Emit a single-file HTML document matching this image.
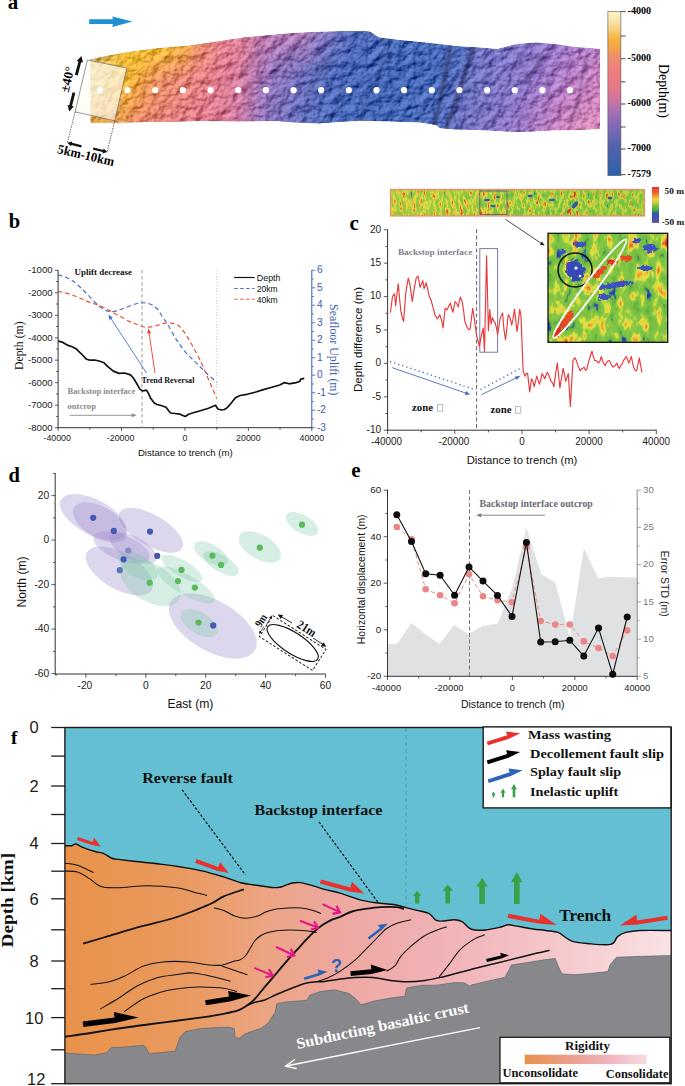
<!DOCTYPE html>
<html><head><meta charset="utf-8"><title>figure</title>
<style>
html,body{margin:0;padding:0;background:#fff;overflow:hidden;}
svg{display:block;}
</style></head><body>
<svg width="685" height="1086" viewBox="0 0 685 1086">
<defs><linearGradient id="aS0" x1="0" y1="0" x2="0" y2="1"><stop offset="0" stop-color="#e6c775"/><stop offset="0.45" stop-color="#e8bf6d"/><stop offset="1" stop-color="#e0a348"/></linearGradient><linearGradient id="aS1" x1="0" y1="0" x2="0" y2="1"><stop offset="0" stop-color="#e6c570"/><stop offset="0.45" stop-color="#e8bd68"/><stop offset="1" stop-color="#e0a248"/></linearGradient><linearGradient id="aS2" x1="0" y1="0" x2="0" y2="1"><stop offset="0" stop-color="#e5c36a"/><stop offset="0.45" stop-color="#e7bb62"/><stop offset="1" stop-color="#e0a148"/></linearGradient><linearGradient id="aS3" x1="0" y1="0" x2="0" y2="1"><stop offset="0" stop-color="#e5c065"/><stop offset="0.45" stop-color="#e7b85d"/><stop offset="1" stop-color="#e0a048"/></linearGradient><linearGradient id="aS4" x1="0" y1="0" x2="0" y2="1"><stop offset="0" stop-color="#e5be5f"/><stop offset="0.45" stop-color="#e7b657"/><stop offset="1" stop-color="#e09f48"/></linearGradient><linearGradient id="aS5" x1="0" y1="0" x2="0" y2="1"><stop offset="0" stop-color="#e4bc5a"/><stop offset="0.45" stop-color="#e6b452"/><stop offset="1" stop-color="#e09e48"/></linearGradient><linearGradient id="aS6" x1="0" y1="0" x2="0" y2="1"><stop offset="0" stop-color="#e4ba55"/><stop offset="0.45" stop-color="#e6b24d"/><stop offset="1" stop-color="#e09d48"/></linearGradient><linearGradient id="aS7" x1="0" y1="0" x2="0" y2="1"><stop offset="0" stop-color="#e4b84f"/><stop offset="0.45" stop-color="#e6b047"/><stop offset="1" stop-color="#e09c48"/></linearGradient><linearGradient id="aS8" x1="0" y1="0" x2="0" y2="1"><stop offset="0" stop-color="#e6b949"/><stop offset="0.45" stop-color="#e8b043"/><stop offset="1" stop-color="#e19a4b"/></linearGradient><linearGradient id="aS9" x1="0" y1="0" x2="0" y2="1"><stop offset="0" stop-color="#e8ba44"/><stop offset="0.45" stop-color="#e9b03f"/><stop offset="1" stop-color="#e2994e"/></linearGradient><linearGradient id="aS10" x1="0" y1="0" x2="0" y2="1"><stop offset="0" stop-color="#eabb3e"/><stop offset="0.45" stop-color="#ebb03b"/><stop offset="1" stop-color="#e39751"/></linearGradient><linearGradient id="aS11" x1="0" y1="0" x2="0" y2="1"><stop offset="0" stop-color="#ecbb39"/><stop offset="0.45" stop-color="#edb037"/><stop offset="1" stop-color="#e39554"/></linearGradient><linearGradient id="aS12" x1="0" y1="0" x2="0" y2="1"><stop offset="0" stop-color="#eebc34"/><stop offset="0.45" stop-color="#eeaf35"/><stop offset="1" stop-color="#e49357"/></linearGradient><linearGradient id="aS13" x1="0" y1="0" x2="0" y2="1"><stop offset="0" stop-color="#eebc33"/><stop offset="0.45" stop-color="#edac38"/><stop offset="1" stop-color="#e4905b"/></linearGradient><linearGradient id="aS14" x1="0" y1="0" x2="0" y2="1"><stop offset="0" stop-color="#efbc32"/><stop offset="0.45" stop-color="#eca93b"/><stop offset="1" stop-color="#e38c5f"/></linearGradient><linearGradient id="aS15" x1="0" y1="0" x2="0" y2="1"><stop offset="0" stop-color="#efbc31"/><stop offset="0.45" stop-color="#eba63e"/><stop offset="1" stop-color="#e38963"/></linearGradient><linearGradient id="aS16" x1="0" y1="0" x2="0" y2="1"><stop offset="0" stop-color="#f0bc31"/><stop offset="0.45" stop-color="#eba341"/><stop offset="1" stop-color="#e28567"/></linearGradient><linearGradient id="aS17" x1="0" y1="0" x2="0" y2="1"><stop offset="0" stop-color="#f0bc30"/><stop offset="0.45" stop-color="#ea9f45"/><stop offset="1" stop-color="#e2826a"/></linearGradient><linearGradient id="aS18" x1="0" y1="0" x2="0" y2="1"><stop offset="0" stop-color="#f0bc30"/><stop offset="0.45" stop-color="#e99c4b"/><stop offset="1" stop-color="#e2816c"/></linearGradient><linearGradient id="aS19" x1="0" y1="0" x2="0" y2="1"><stop offset="0" stop-color="#f0bb30"/><stop offset="0.45" stop-color="#e89950"/><stop offset="1" stop-color="#e1806e"/></linearGradient><linearGradient id="aS20" x1="0" y1="0" x2="0" y2="1"><stop offset="0" stop-color="#f0bb30"/><stop offset="0.45" stop-color="#e79656"/><stop offset="1" stop-color="#e17f70"/></linearGradient><linearGradient id="aS21" x1="0" y1="0" x2="0" y2="1"><stop offset="0" stop-color="#f0ba30"/><stop offset="0.45" stop-color="#e7935b"/><stop offset="1" stop-color="#e07f72"/></linearGradient><linearGradient id="aS22" x1="0" y1="0" x2="0" y2="1"><stop offset="0" stop-color="#f0ba30"/><stop offset="0.45" stop-color="#e69060"/><stop offset="1" stop-color="#e07e74"/></linearGradient><linearGradient id="aS23" x1="0" y1="0" x2="0" y2="1"><stop offset="0" stop-color="#f0b931"/><stop offset="0.45" stop-color="#e68e63"/><stop offset="1" stop-color="#e07e76"/></linearGradient><linearGradient id="aS24" x1="0" y1="0" x2="0" y2="1"><stop offset="0" stop-color="#efb732"/><stop offset="0.45" stop-color="#e58d65"/><stop offset="1" stop-color="#df7d77"/></linearGradient><linearGradient id="aS25" x1="0" y1="0" x2="0" y2="1"><stop offset="0" stop-color="#efb633"/><stop offset="0.45" stop-color="#e58b68"/><stop offset="1" stop-color="#df7d79"/></linearGradient><linearGradient id="aS26" x1="0" y1="0" x2="0" y2="1"><stop offset="0" stop-color="#eeb533"/><stop offset="0.45" stop-color="#e4896a"/><stop offset="1" stop-color="#de7c7b"/></linearGradient><linearGradient id="aS27" x1="0" y1="0" x2="0" y2="1"><stop offset="0" stop-color="#eeb435"/><stop offset="0.45" stop-color="#e4886c"/><stop offset="1" stop-color="#de7c7c"/></linearGradient><linearGradient id="aS28" x1="0" y1="0" x2="0" y2="1"><stop offset="0" stop-color="#edb138"/><stop offset="0.45" stop-color="#e3866e"/><stop offset="1" stop-color="#de7c7d"/></linearGradient><linearGradient id="aS29" x1="0" y1="0" x2="0" y2="1"><stop offset="0" stop-color="#ecaf3b"/><stop offset="0.45" stop-color="#e28570"/><stop offset="1" stop-color="#dd7b7f"/></linearGradient><linearGradient id="aS30" x1="0" y1="0" x2="0" y2="1"><stop offset="0" stop-color="#ebac3e"/><stop offset="0.45" stop-color="#e18372"/><stop offset="1" stop-color="#dd7b80"/></linearGradient><linearGradient id="aS31" x1="0" y1="0" x2="0" y2="1"><stop offset="0" stop-color="#ebaa41"/><stop offset="0.45" stop-color="#e18174"/><stop offset="1" stop-color="#dc7a81"/></linearGradient><linearGradient id="aS32" x1="0" y1="0" x2="0" y2="1"><stop offset="0" stop-color="#eaa745"/><stop offset="0.45" stop-color="#e08076"/><stop offset="1" stop-color="#dc7a82"/></linearGradient><linearGradient id="aS33" x1="0" y1="0" x2="0" y2="1"><stop offset="0" stop-color="#e9a14c"/><stop offset="0.45" stop-color="#e07f78"/><stop offset="1" stop-color="#dc7a83"/></linearGradient><linearGradient id="aS34" x1="0" y1="0" x2="0" y2="1"><stop offset="0" stop-color="#e79c54"/><stop offset="0.45" stop-color="#df7e7a"/><stop offset="1" stop-color="#db7985"/></linearGradient><linearGradient id="aS35" x1="0" y1="0" x2="0" y2="1"><stop offset="0" stop-color="#e6965b"/><stop offset="0.45" stop-color="#df7d7c"/><stop offset="1" stop-color="#db7986"/></linearGradient><linearGradient id="aS36" x1="0" y1="0" x2="0" y2="1"><stop offset="0" stop-color="#e59162"/><stop offset="0.45" stop-color="#de7d7e"/><stop offset="1" stop-color="#da7887"/></linearGradient><linearGradient id="aS37" x1="0" y1="0" x2="0" y2="1"><stop offset="0" stop-color="#e48c69"/><stop offset="0.45" stop-color="#de7c80"/><stop offset="1" stop-color="#da7888"/></linearGradient><linearGradient id="aS38" x1="0" y1="0" x2="0" y2="1"><stop offset="0" stop-color="#e3896f"/><stop offset="0.45" stop-color="#de7c82"/><stop offset="1" stop-color="#da7889"/></linearGradient><linearGradient id="aS39" x1="0" y1="0" x2="0" y2="1"><stop offset="0" stop-color="#e28674"/><stop offset="0.45" stop-color="#dd7b84"/><stop offset="1" stop-color="#d9788b"/></linearGradient><linearGradient id="aS40" x1="0" y1="0" x2="0" y2="1"><stop offset="0" stop-color="#e1837a"/><stop offset="0.45" stop-color="#dd7b86"/><stop offset="1" stop-color="#d9788c"/></linearGradient><linearGradient id="aS41" x1="0" y1="0" x2="0" y2="1"><stop offset="0" stop-color="#e1807f"/><stop offset="0.45" stop-color="#dc7a88"/><stop offset="1" stop-color="#d8788d"/></linearGradient><linearGradient id="aS42" x1="0" y1="0" x2="0" y2="1"><stop offset="0" stop-color="#e07e84"/><stop offset="0.45" stop-color="#dc7a8a"/><stop offset="1" stop-color="#d8788e"/></linearGradient><linearGradient id="aS43" x1="0" y1="0" x2="0" y2="1"><stop offset="0" stop-color="#df7d86"/><stop offset="0.45" stop-color="#db7a8c"/><stop offset="1" stop-color="#d77890"/></linearGradient><linearGradient id="aS44" x1="0" y1="0" x2="0" y2="1"><stop offset="0" stop-color="#de7c87"/><stop offset="0.45" stop-color="#d9798d"/><stop offset="1" stop-color="#d57891"/></linearGradient><linearGradient id="aS45" x1="0" y1="0" x2="0" y2="1"><stop offset="0" stop-color="#dd7b89"/><stop offset="0.45" stop-color="#d8798f"/><stop offset="1" stop-color="#d47893"/></linearGradient><linearGradient id="aS46" x1="0" y1="0" x2="0" y2="1"><stop offset="0" stop-color="#dd7b8b"/><stop offset="0.45" stop-color="#d77891"/><stop offset="1" stop-color="#d37895"/></linearGradient><linearGradient id="aS47" x1="0" y1="0" x2="0" y2="1"><stop offset="0" stop-color="#dc7a8c"/><stop offset="0.45" stop-color="#d67892"/><stop offset="1" stop-color="#d17897"/></linearGradient><linearGradient id="aS48" x1="0" y1="0" x2="0" y2="1"><stop offset="0" stop-color="#da7a8e"/><stop offset="0.45" stop-color="#d37895"/><stop offset="1" stop-color="#cc779a"/></linearGradient><linearGradient id="aS49" x1="0" y1="0" x2="0" y2="1"><stop offset="0" stop-color="#d97990"/><stop offset="0.45" stop-color="#d07797"/><stop offset="1" stop-color="#c7769d"/></linearGradient><linearGradient id="aS50" x1="0" y1="0" x2="0" y2="1"><stop offset="0" stop-color="#d77992"/><stop offset="0.45" stop-color="#cd779a"/><stop offset="1" stop-color="#c275a0"/></linearGradient><linearGradient id="aS51" x1="0" y1="0" x2="0" y2="1"><stop offset="0" stop-color="#d57894"/><stop offset="0.45" stop-color="#ca769c"/><stop offset="1" stop-color="#bc75a3"/></linearGradient><linearGradient id="aS52" x1="0" y1="0" x2="0" y2="1"><stop offset="0" stop-color="#d37897"/><stop offset="0.45" stop-color="#c7769f"/><stop offset="1" stop-color="#b774a6"/></linearGradient><linearGradient id="aS53" x1="0" y1="0" x2="0" y2="1"><stop offset="0" stop-color="#d0789a"/><stop offset="0.45" stop-color="#c075a2"/><stop offset="1" stop-color="#af73a9"/></linearGradient><linearGradient id="aS54" x1="0" y1="0" x2="0" y2="1"><stop offset="0" stop-color="#cd789d"/><stop offset="0.45" stop-color="#b874a6"/><stop offset="1" stop-color="#a772ac"/></linearGradient><linearGradient id="aS55" x1="0" y1="0" x2="0" y2="1"><stop offset="0" stop-color="#ca78a0"/><stop offset="0.45" stop-color="#b173a9"/><stop offset="1" stop-color="#9f71af"/></linearGradient><linearGradient id="aS56" x1="0" y1="0" x2="0" y2="1"><stop offset="0" stop-color="#c778a3"/><stop offset="0.45" stop-color="#aa73ad"/><stop offset="1" stop-color="#9771b2"/></linearGradient><linearGradient id="aS57" x1="0" y1="0" x2="0" y2="1"><stop offset="0" stop-color="#c378a6"/><stop offset="0.45" stop-color="#a372b0"/><stop offset="1" stop-color="#8f70b4"/></linearGradient><linearGradient id="aS58" x1="0" y1="0" x2="0" y2="1"><stop offset="0" stop-color="#c078a8"/><stop offset="0.45" stop-color="#9e72b1"/><stop offset="1" stop-color="#8b6fb4"/></linearGradient><linearGradient id="aS59" x1="0" y1="0" x2="0" y2="1"><stop offset="0" stop-color="#bd78a9"/><stop offset="0.45" stop-color="#9971b3"/><stop offset="1" stop-color="#866eb5"/></linearGradient><linearGradient id="aS60" x1="0" y1="0" x2="0" y2="1"><stop offset="0" stop-color="#ba78ab"/><stop offset="0.45" stop-color="#9471b4"/><stop offset="1" stop-color="#826db5"/></linearGradient><linearGradient id="aS61" x1="0" y1="0" x2="0" y2="1"><stop offset="0" stop-color="#b778ad"/><stop offset="0.45" stop-color="#8e70b5"/><stop offset="1" stop-color="#7e6db6"/></linearGradient><linearGradient id="aS62" x1="0" y1="0" x2="0" y2="1"><stop offset="0" stop-color="#b478ae"/><stop offset="0.45" stop-color="#8970b6"/><stop offset="1" stop-color="#796cb6"/></linearGradient><linearGradient id="aS63" x1="0" y1="0" x2="0" y2="1"><stop offset="0" stop-color="#b478af"/><stop offset="0.45" stop-color="#866fb6"/><stop offset="1" stop-color="#766cb6"/></linearGradient><linearGradient id="aS64" x1="0" y1="0" x2="0" y2="1"><stop offset="0" stop-color="#b479b0"/><stop offset="0.45" stop-color="#836eb6"/><stop offset="1" stop-color="#736bb6"/></linearGradient><linearGradient id="aS65" x1="0" y1="0" x2="0" y2="1"><stop offset="0" stop-color="#b479b1"/><stop offset="0.45" stop-color="#806db6"/><stop offset="1" stop-color="#706bb6"/></linearGradient><linearGradient id="aS66" x1="0" y1="0" x2="0" y2="1"><stop offset="0" stop-color="#b47ab1"/><stop offset="0.45" stop-color="#7d6db6"/><stop offset="1" stop-color="#6d6ab6"/></linearGradient><linearGradient id="aS67" x1="0" y1="0" x2="0" y2="1"><stop offset="0" stop-color="#b47ab2"/><stop offset="0.45" stop-color="#796cb6"/><stop offset="1" stop-color="#696ab6"/></linearGradient><linearGradient id="aS68" x1="0" y1="0" x2="0" y2="1"><stop offset="0" stop-color="#b27ab2"/><stop offset="0.45" stop-color="#766cb6"/><stop offset="1" stop-color="#666ab6"/></linearGradient><linearGradient id="aS69" x1="0" y1="0" x2="0" y2="1"><stop offset="0" stop-color="#b17ab3"/><stop offset="0.45" stop-color="#736bb6"/><stop offset="1" stop-color="#6369b5"/></linearGradient><linearGradient id="aS70" x1="0" y1="0" x2="0" y2="1"><stop offset="0" stop-color="#af7ab3"/><stop offset="0.45" stop-color="#706bb6"/><stop offset="1" stop-color="#6069b5"/></linearGradient><linearGradient id="aS71" x1="0" y1="0" x2="0" y2="1"><stop offset="0" stop-color="#ad7ab4"/><stop offset="0.45" stop-color="#6d6ab6"/><stop offset="1" stop-color="#5d68b4"/></linearGradient><linearGradient id="aS72" x1="0" y1="0" x2="0" y2="1"><stop offset="0" stop-color="#ab7ab4"/><stop offset="0.45" stop-color="#696ab6"/><stop offset="1" stop-color="#5a68b4"/></linearGradient><linearGradient id="aS73" x1="0" y1="0" x2="0" y2="1"><stop offset="0" stop-color="#a478b5"/><stop offset="0.45" stop-color="#666ab6"/><stop offset="1" stop-color="#5868b4"/></linearGradient><linearGradient id="aS74" x1="0" y1="0" x2="0" y2="1"><stop offset="0" stop-color="#9d77b6"/><stop offset="0.45" stop-color="#6269b5"/><stop offset="1" stop-color="#5668b4"/></linearGradient><linearGradient id="aS75" x1="0" y1="0" x2="0" y2="1"><stop offset="0" stop-color="#9675b7"/><stop offset="0.45" stop-color="#5f69b5"/><stop offset="1" stop-color="#5468b4"/></linearGradient><linearGradient id="aS76" x1="0" y1="0" x2="0" y2="1"><stop offset="0" stop-color="#9073b7"/><stop offset="0.45" stop-color="#5b68b4"/><stop offset="1" stop-color="#5268b4"/></linearGradient><linearGradient id="aS77" x1="0" y1="0" x2="0" y2="1"><stop offset="0" stop-color="#8972b8"/><stop offset="0.45" stop-color="#5868b4"/><stop offset="1" stop-color="#5068b4"/></linearGradient><linearGradient id="aS78" x1="0" y1="0" x2="0" y2="1"><stop offset="0" stop-color="#8371b8"/><stop offset="0.45" stop-color="#5568b4"/><stop offset="1" stop-color="#4e68b4"/></linearGradient><linearGradient id="aS79" x1="0" y1="0" x2="0" y2="1"><stop offset="0" stop-color="#7c6fb8"/><stop offset="0.45" stop-color="#5267b4"/><stop offset="1" stop-color="#4d67b4"/></linearGradient><linearGradient id="aS80" x1="0" y1="0" x2="0" y2="1"><stop offset="0" stop-color="#766eb8"/><stop offset="0.45" stop-color="#4f67b4"/><stop offset="1" stop-color="#4b67b4"/></linearGradient><linearGradient id="aS81" x1="0" y1="0" x2="0" y2="1"><stop offset="0" stop-color="#6f6db8"/><stop offset="0.45" stop-color="#4c66b4"/><stop offset="1" stop-color="#4966b4"/></linearGradient><linearGradient id="aS82" x1="0" y1="0" x2="0" y2="1"><stop offset="0" stop-color="#696cb8"/><stop offset="0.45" stop-color="#4a66b4"/><stop offset="1" stop-color="#4866b4"/></linearGradient><linearGradient id="aS83" x1="0" y1="0" x2="0" y2="1"><stop offset="0" stop-color="#646bb7"/><stop offset="0.45" stop-color="#4966b4"/><stop offset="1" stop-color="#4766b4"/></linearGradient><linearGradient id="aS84" x1="0" y1="0" x2="0" y2="1"><stop offset="0" stop-color="#5f69b6"/><stop offset="0.45" stop-color="#4765b3"/><stop offset="1" stop-color="#4565b3"/></linearGradient><linearGradient id="aS85" x1="0" y1="0" x2="0" y2="1"><stop offset="0" stop-color="#5a68b5"/><stop offset="0.45" stop-color="#4665b3"/><stop offset="1" stop-color="#4465b3"/></linearGradient><linearGradient id="aS86" x1="0" y1="0" x2="0" y2="1"><stop offset="0" stop-color="#5467b5"/><stop offset="0.45" stop-color="#4564b2"/><stop offset="1" stop-color="#4364b2"/></linearGradient><linearGradient id="aS87" x1="0" y1="0" x2="0" y2="1"><stop offset="0" stop-color="#5066b4"/><stop offset="0.45" stop-color="#4464b2"/><stop offset="1" stop-color="#4264b2"/></linearGradient><linearGradient id="aS88" x1="0" y1="0" x2="0" y2="1"><stop offset="0" stop-color="#4f66b4"/><stop offset="0.45" stop-color="#4464b2"/><stop offset="1" stop-color="#4264b2"/></linearGradient><linearGradient id="aS89" x1="0" y1="0" x2="0" y2="1"><stop offset="0" stop-color="#4e66b4"/><stop offset="0.45" stop-color="#4364b2"/><stop offset="1" stop-color="#4264b2"/></linearGradient><linearGradient id="aS90" x1="0" y1="0" x2="0" y2="1"><stop offset="0" stop-color="#4d66b4"/><stop offset="0.45" stop-color="#4364b2"/><stop offset="1" stop-color="#4264b2"/></linearGradient><linearGradient id="aS91" x1="0" y1="0" x2="0" y2="1"><stop offset="0" stop-color="#4c66b4"/><stop offset="0.45" stop-color="#4264b2"/><stop offset="1" stop-color="#4264b2"/></linearGradient><linearGradient id="aS92" x1="0" y1="0" x2="0" y2="1"><stop offset="0" stop-color="#4c65b3"/><stop offset="0.45" stop-color="#4263b1"/><stop offset="1" stop-color="#4164b2"/></linearGradient><linearGradient id="aS93" x1="0" y1="0" x2="0" y2="1"><stop offset="0" stop-color="#4b65b3"/><stop offset="0.45" stop-color="#4263b1"/><stop offset="1" stop-color="#4164b2"/></linearGradient><linearGradient id="aS94" x1="0" y1="0" x2="0" y2="1"><stop offset="0" stop-color="#4a65b3"/><stop offset="0.45" stop-color="#4163b1"/><stop offset="1" stop-color="#4164b2"/></linearGradient><linearGradient id="aS95" x1="0" y1="0" x2="0" y2="1"><stop offset="0" stop-color="#4965b3"/><stop offset="0.45" stop-color="#4163b1"/><stop offset="1" stop-color="#4164b2"/></linearGradient><linearGradient id="aS96" x1="0" y1="0" x2="0" y2="1"><stop offset="0" stop-color="#4865b3"/><stop offset="0.45" stop-color="#4163b1"/><stop offset="1" stop-color="#4164b2"/></linearGradient><linearGradient id="aS97" x1="0" y1="0" x2="0" y2="1"><stop offset="0" stop-color="#4765b3"/><stop offset="0.45" stop-color="#4063b1"/><stop offset="1" stop-color="#4164b2"/></linearGradient><linearGradient id="aS98" x1="0" y1="0" x2="0" y2="1"><stop offset="0" stop-color="#4765b3"/><stop offset="0.45" stop-color="#4063b1"/><stop offset="1" stop-color="#4164b2"/></linearGradient><linearGradient id="aS99" x1="0" y1="0" x2="0" y2="1"><stop offset="0" stop-color="#4665b3"/><stop offset="0.45" stop-color="#4063b1"/><stop offset="1" stop-color="#4164b2"/></linearGradient><linearGradient id="aS100" x1="0" y1="0" x2="0" y2="1"><stop offset="0" stop-color="#4564b2"/><stop offset="0.45" stop-color="#3f62b0"/><stop offset="1" stop-color="#4064b2"/></linearGradient><linearGradient id="aS101" x1="0" y1="0" x2="0" y2="1"><stop offset="0" stop-color="#4464b2"/><stop offset="0.45" stop-color="#3f62b0"/><stop offset="1" stop-color="#4064b2"/></linearGradient><linearGradient id="aS102" x1="0" y1="0" x2="0" y2="1"><stop offset="0" stop-color="#4364b2"/><stop offset="0.45" stop-color="#3f62b0"/><stop offset="1" stop-color="#4064b2"/></linearGradient><linearGradient id="aS103" x1="0" y1="0" x2="0" y2="1"><stop offset="0" stop-color="#4264b2"/><stop offset="0.45" stop-color="#3e62b0"/><stop offset="1" stop-color="#4064b2"/></linearGradient><linearGradient id="aS104" x1="0" y1="0" x2="0" y2="1"><stop offset="0" stop-color="#4264b2"/><stop offset="0.45" stop-color="#3e62b0"/><stop offset="1" stop-color="#4164b2"/></linearGradient><linearGradient id="aS105" x1="0" y1="0" x2="0" y2="1"><stop offset="0" stop-color="#4264b2"/><stop offset="0.45" stop-color="#3f62b0"/><stop offset="1" stop-color="#4264b2"/></linearGradient><linearGradient id="aS106" x1="0" y1="0" x2="0" y2="1"><stop offset="0" stop-color="#4264b2"/><stop offset="0.45" stop-color="#3f63b1"/><stop offset="1" stop-color="#4365b3"/></linearGradient><linearGradient id="aS107" x1="0" y1="0" x2="0" y2="1"><stop offset="0" stop-color="#4365b3"/><stop offset="0.45" stop-color="#4063b1"/><stop offset="1" stop-color="#4465b3"/></linearGradient><linearGradient id="aS108" x1="0" y1="0" x2="0" y2="1"><stop offset="0" stop-color="#4365b3"/><stop offset="0.45" stop-color="#4063b1"/><stop offset="1" stop-color="#4565b3"/></linearGradient><linearGradient id="aS109" x1="0" y1="0" x2="0" y2="1"><stop offset="0" stop-color="#4365b3"/><stop offset="0.45" stop-color="#4064b2"/><stop offset="1" stop-color="#4766b4"/></linearGradient><linearGradient id="aS110" x1="0" y1="0" x2="0" y2="1"><stop offset="0" stop-color="#4365b3"/><stop offset="0.45" stop-color="#4164b2"/><stop offset="1" stop-color="#4866b4"/></linearGradient><linearGradient id="aS111" x1="0" y1="0" x2="0" y2="1"><stop offset="0" stop-color="#4365b3"/><stop offset="0.45" stop-color="#4164b2"/><stop offset="1" stop-color="#4966b4"/></linearGradient><linearGradient id="aS112" x1="0" y1="0" x2="0" y2="1"><stop offset="0" stop-color="#4365b3"/><stop offset="0.45" stop-color="#4265b3"/><stop offset="1" stop-color="#4a67b5"/></linearGradient><linearGradient id="aS113" x1="0" y1="0" x2="0" y2="1"><stop offset="0" stop-color="#4365b3"/><stop offset="0.45" stop-color="#4265b3"/><stop offset="1" stop-color="#4b67b5"/></linearGradient><linearGradient id="aS114" x1="0" y1="0" x2="0" y2="1"><stop offset="0" stop-color="#4466b4"/><stop offset="0.45" stop-color="#4365b3"/><stop offset="1" stop-color="#4d67b5"/></linearGradient><linearGradient id="aS115" x1="0" y1="0" x2="0" y2="1"><stop offset="0" stop-color="#4466b4"/><stop offset="0.45" stop-color="#4365b3"/><stop offset="1" stop-color="#4e67b5"/></linearGradient><linearGradient id="aS116" x1="0" y1="0" x2="0" y2="1"><stop offset="0" stop-color="#4466b4"/><stop offset="0.45" stop-color="#4466b4"/><stop offset="1" stop-color="#4f68b6"/></linearGradient><linearGradient id="aS117" x1="0" y1="0" x2="0" y2="1"><stop offset="0" stop-color="#4466b4"/><stop offset="0.45" stop-color="#4566b4"/><stop offset="1" stop-color="#5168b6"/></linearGradient><linearGradient id="aS118" x1="0" y1="0" x2="0" y2="1"><stop offset="0" stop-color="#4566b4"/><stop offset="0.45" stop-color="#4867b5"/><stop offset="1" stop-color="#5569b7"/></linearGradient><linearGradient id="aS119" x1="0" y1="0" x2="0" y2="1"><stop offset="0" stop-color="#4767b5"/><stop offset="0.45" stop-color="#4b67b5"/><stop offset="1" stop-color="#5869b7"/></linearGradient><linearGradient id="aS120" x1="0" y1="0" x2="0" y2="1"><stop offset="0" stop-color="#4867b5"/><stop offset="0.45" stop-color="#4e68b6"/><stop offset="1" stop-color="#5c6ab8"/></linearGradient><linearGradient id="aS121" x1="0" y1="0" x2="0" y2="1"><stop offset="0" stop-color="#4967b5"/><stop offset="0.45" stop-color="#5268b6"/><stop offset="1" stop-color="#606ab8"/></linearGradient><linearGradient id="aS122" x1="0" y1="0" x2="0" y2="1"><stop offset="0" stop-color="#4a68b6"/><stop offset="0.45" stop-color="#5569b7"/><stop offset="1" stop-color="#646bb9"/></linearGradient><linearGradient id="aS123" x1="0" y1="0" x2="0" y2="1"><stop offset="0" stop-color="#4b68b6"/><stop offset="0.45" stop-color="#586ab8"/><stop offset="1" stop-color="#686cba"/></linearGradient><linearGradient id="aS124" x1="0" y1="0" x2="0" y2="1"><stop offset="0" stop-color="#4e68b6"/><stop offset="0.45" stop-color="#5c6ab8"/><stop offset="1" stop-color="#6b6cba"/></linearGradient><linearGradient id="aS125" x1="0" y1="0" x2="0" y2="1"><stop offset="0" stop-color="#5369b7"/><stop offset="0.45" stop-color="#5f6bb9"/><stop offset="1" stop-color="#6e6dbb"/></linearGradient><linearGradient id="aS126" x1="0" y1="0" x2="0" y2="1"><stop offset="0" stop-color="#576ab8"/><stop offset="0.45" stop-color="#626cba"/><stop offset="1" stop-color="#706ebc"/></linearGradient><linearGradient id="aS127" x1="0" y1="0" x2="0" y2="1"><stop offset="0" stop-color="#5c6ab9"/><stop offset="0.45" stop-color="#666dbb"/><stop offset="1" stop-color="#726ebc"/></linearGradient><linearGradient id="aS128" x1="0" y1="0" x2="0" y2="1"><stop offset="0" stop-color="#606bba"/><stop offset="0.45" stop-color="#696ebc"/><stop offset="1" stop-color="#756fbd"/></linearGradient><linearGradient id="aS129" x1="0" y1="0" x2="0" y2="1"><stop offset="0" stop-color="#656bbb"/><stop offset="0.45" stop-color="#6c6fbd"/><stop offset="1" stop-color="#776fbd"/></linearGradient><linearGradient id="aS130" x1="0" y1="0" x2="0" y2="1"><stop offset="0" stop-color="#696cbc"/><stop offset="0.45" stop-color="#6f70be"/><stop offset="1" stop-color="#7a70be"/></linearGradient><linearGradient id="aS131" x1="0" y1="0" x2="0" y2="1"><stop offset="0" stop-color="#6c6cbc"/><stop offset="0.45" stop-color="#7170be"/><stop offset="1" stop-color="#7b70be"/></linearGradient><linearGradient id="aS132" x1="0" y1="0" x2="0" y2="1"><stop offset="0" stop-color="#6d6dbd"/><stop offset="0.45" stop-color="#7370bf"/><stop offset="1" stop-color="#7d70bf"/></linearGradient><linearGradient id="aS133" x1="0" y1="0" x2="0" y2="1"><stop offset="0" stop-color="#6f6ebe"/><stop offset="0.45" stop-color="#7470bf"/><stop offset="1" stop-color="#7e70bf"/></linearGradient><linearGradient id="aS134" x1="0" y1="0" x2="0" y2="1"><stop offset="0" stop-color="#716ebe"/><stop offset="0.45" stop-color="#7670bf"/><stop offset="1" stop-color="#8070bf"/></linearGradient><linearGradient id="aS135" x1="0" y1="0" x2="0" y2="1"><stop offset="0" stop-color="#736fbf"/><stop offset="0.45" stop-color="#7770bf"/><stop offset="1" stop-color="#8170bf"/></linearGradient><linearGradient id="aS136" x1="0" y1="0" x2="0" y2="1"><stop offset="0" stop-color="#7470c0"/><stop offset="0.45" stop-color="#7970c0"/><stop offset="1" stop-color="#8370c0"/></linearGradient><linearGradient id="aS137" x1="0" y1="0" x2="0" y2="1"><stop offset="0" stop-color="#7670c0"/><stop offset="0.45" stop-color="#7a70c0"/><stop offset="1" stop-color="#8470c0"/></linearGradient><linearGradient id="aS138" x1="0" y1="0" x2="0" y2="1"><stop offset="0" stop-color="#7770c0"/><stop offset="0.45" stop-color="#7c70c0"/><stop offset="1" stop-color="#8670c0"/></linearGradient><linearGradient id="aS139" x1="0" y1="0" x2="0" y2="1"><stop offset="0" stop-color="#7970c0"/><stop offset="0.45" stop-color="#7d70c0"/><stop offset="1" stop-color="#8971c0"/></linearGradient><linearGradient id="aS140" x1="0" y1="0" x2="0" y2="1"><stop offset="0" stop-color="#7a70c0"/><stop offset="0.45" stop-color="#7f70c0"/><stop offset="1" stop-color="#8b71c0"/></linearGradient><linearGradient id="aS141" x1="0" y1="0" x2="0" y2="1"><stop offset="0" stop-color="#7b70c0"/><stop offset="0.45" stop-color="#8070c0"/><stop offset="1" stop-color="#8d71c0"/></linearGradient><linearGradient id="aS142" x1="0" y1="0" x2="0" y2="1"><stop offset="0" stop-color="#7c70c0"/><stop offset="0.45" stop-color="#8270c0"/><stop offset="1" stop-color="#8f72c0"/></linearGradient><linearGradient id="aS143" x1="0" y1="0" x2="0" y2="1"><stop offset="0" stop-color="#7d70c0"/><stop offset="0.45" stop-color="#8370c0"/><stop offset="1" stop-color="#9172c0"/></linearGradient><linearGradient id="aS144" x1="0" y1="0" x2="0" y2="1"><stop offset="0" stop-color="#7f70c0"/><stop offset="0.45" stop-color="#8570c0"/><stop offset="1" stop-color="#9472c0"/></linearGradient><linearGradient id="aS145" x1="0" y1="0" x2="0" y2="1"><stop offset="0" stop-color="#8070c0"/><stop offset="0.45" stop-color="#8870c0"/><stop offset="1" stop-color="#9973bf"/></linearGradient><linearGradient id="aS146" x1="0" y1="0" x2="0" y2="1"><stop offset="0" stop-color="#8170c0"/><stop offset="0.45" stop-color="#8a71c0"/><stop offset="1" stop-color="#9d74be"/></linearGradient><linearGradient id="aS147" x1="0" y1="0" x2="0" y2="1"><stop offset="0" stop-color="#8270c0"/><stop offset="0.45" stop-color="#8c71c0"/><stop offset="1" stop-color="#a275be"/></linearGradient><linearGradient id="aS148" x1="0" y1="0" x2="0" y2="1"><stop offset="0" stop-color="#8370c0"/><stop offset="0.45" stop-color="#8f71c0"/><stop offset="1" stop-color="#a676bd"/></linearGradient><linearGradient id="aS149" x1="0" y1="0" x2="0" y2="1"><stop offset="0" stop-color="#8570c0"/><stop offset="0.45" stop-color="#9172c0"/><stop offset="1" stop-color="#ab77bd"/></linearGradient><linearGradient id="aS150" x1="0" y1="0" x2="0" y2="1"><stop offset="0" stop-color="#8670c0"/><stop offset="0.45" stop-color="#9472c0"/><stop offset="1" stop-color="#af78bc"/></linearGradient><linearGradient id="aS151" x1="0" y1="0" x2="0" y2="1"><stop offset="0" stop-color="#8870c0"/><stop offset="0.45" stop-color="#9772c0"/><stop offset="1" stop-color="#b278bc"/></linearGradient><linearGradient id="aS152" x1="0" y1="0" x2="0" y2="1"><stop offset="0" stop-color="#8a71c0"/><stop offset="0.45" stop-color="#9a73c0"/><stop offset="1" stop-color="#b679bb"/></linearGradient><linearGradient id="aS153" x1="0" y1="0" x2="0" y2="1"><stop offset="0" stop-color="#8c71c0"/><stop offset="0.45" stop-color="#9d74c0"/><stop offset="1" stop-color="#b87aba"/></linearGradient><linearGradient id="aS154" x1="0" y1="0" x2="0" y2="1"><stop offset="0" stop-color="#8e71c0"/><stop offset="0.45" stop-color="#a174c0"/><stop offset="1" stop-color="#bc7aba"/></linearGradient><linearGradient id="aS155" x1="0" y1="0" x2="0" y2="1"><stop offset="0" stop-color="#9071c0"/><stop offset="0.45" stop-color="#a475c0"/><stop offset="1" stop-color="#be7bb9"/></linearGradient><linearGradient id="aS156" x1="0" y1="0" x2="0" y2="1"><stop offset="0" stop-color="#9272c0"/><stop offset="0.45" stop-color="#a776c0"/><stop offset="1" stop-color="#c27cb8"/></linearGradient><linearGradient id="aS157" x1="0" y1="0" x2="0" y2="1"><stop offset="0" stop-color="#9472c0"/><stop offset="0.45" stop-color="#aa76c0"/><stop offset="1" stop-color="#c47cb8"/></linearGradient><linearGradient id="aS158" x1="0" y1="0" x2="0" y2="1"><stop offset="0" stop-color="#9873c0"/><stop offset="0.45" stop-color="#ae77bf"/><stop offset="1" stop-color="#c67db8"/></linearGradient><linearGradient id="aS159" x1="0" y1="0" x2="0" y2="1"><stop offset="0" stop-color="#9a73c0"/><stop offset="0.45" stop-color="#b078bf"/><stop offset="1" stop-color="#c87fb7"/></linearGradient><linearGradient id="aS160" x1="0" y1="0" x2="0" y2="1"><stop offset="0" stop-color="#9e74c0"/><stop offset="0.45" stop-color="#b479be"/><stop offset="1" stop-color="#ca80b7"/></linearGradient><linearGradient id="aS161" x1="0" y1="0" x2="0" y2="1"><stop offset="0" stop-color="#a074c0"/><stop offset="0.45" stop-color="#b67abe"/><stop offset="1" stop-color="#cc81b7"/></linearGradient><linearGradient id="aS162" x1="0" y1="0" x2="0" y2="1"><stop offset="0" stop-color="#a475c0"/><stop offset="0.45" stop-color="#ba7bbd"/><stop offset="1" stop-color="#cd82b6"/></linearGradient><linearGradient id="aS163" x1="0" y1="0" x2="0" y2="1"><stop offset="0" stop-color="#a676c0"/><stop offset="0.45" stop-color="#bc7cbc"/><stop offset="1" stop-color="#cf83b6"/></linearGradient><linearGradient id="aS164" x1="0" y1="0" x2="0" y2="1"><stop offset="0" stop-color="#a976c0"/><stop offset="0.45" stop-color="#bf7cbc"/><stop offset="1" stop-color="#d184b6"/></linearGradient><linearGradient id="aS165" x1="0" y1="0" x2="0" y2="1"><stop offset="0" stop-color="#aa77c0"/><stop offset="0.45" stop-color="#c07dbc"/><stop offset="1" stop-color="#d285b6"/></linearGradient><linearGradient id="aS166" x1="0" y1="0" x2="0" y2="1"><stop offset="0" stop-color="#ac77c0"/><stop offset="0.45" stop-color="#c17dbc"/><stop offset="1" stop-color="#d385b7"/></linearGradient><linearGradient id="aS167" x1="0" y1="0" x2="0" y2="1"><stop offset="0" stop-color="#ae78c0"/><stop offset="0.45" stop-color="#c37ebc"/><stop offset="1" stop-color="#d486b7"/></linearGradient><linearGradient id="aS168" x1="0" y1="0" x2="0" y2="1"><stop offset="0" stop-color="#af78c0"/><stop offset="0.45" stop-color="#c47ebc"/><stop offset="1" stop-color="#d586b7"/></linearGradient><linearGradient id="aS169" x1="0" y1="0" x2="0" y2="1"><stop offset="0" stop-color="#b179c0"/><stop offset="0.45" stop-color="#c67fbc"/><stop offset="1" stop-color="#d687b8"/></linearGradient><linearGradient id="aS170" x1="0" y1="0" x2="0" y2="1"><stop offset="0" stop-color="#b37ac0"/><stop offset="0.45" stop-color="#c780bc"/><stop offset="1" stop-color="#d788b8"/></linearGradient><linearGradient id="aS171" x1="0" y1="0" x2="0" y2="1"><stop offset="0" stop-color="#b47ac0"/><stop offset="0.45" stop-color="#c880bc"/><stop offset="1" stop-color="#d888b8"/></linearGradient><linearGradient id="aCbar" x1="0" y1="0" x2="0" y2="1"><stop offset="0" stop-color="#faf5c8"/><stop offset="0.08" stop-color="#f8dc9c"/><stop offset="0.17" stop-color="#f4b23c"/><stop offset="0.23" stop-color="#f2a04c"/><stop offset="0.28" stop-color="#f08c70"/><stop offset="0.38" stop-color="#ef7a80"/><stop offset="0.47" stop-color="#e27888"/><stop offset="0.55" stop-color="#c874a4"/><stop offset="0.62" stop-color="#9e70b4"/><stop offset="0.72" stop-color="#7868b4"/><stop offset="0.82" stop-color="#5462ac"/><stop offset="1" stop-color="#2a62aa"/></linearGradient><filter id="aShade" x="80" y="25" width="530" height="112" filterUnits="userSpaceOnUse" color-interpolation-filters="sRGB"><feTurbulence type="fractalNoise" baseFrequency="0.1 0.12" numOctaves="3" seed="5" result="n"/><feDiffuseLighting in="n" surfaceScale="2.6" diffuseConstant="1.0" lighting-color="#fff" result="L"><feDistantLight azimuth="225" elevation="55"/></feDiffuseLighting><feComposite in="SourceGraphic" in2="L" operator="arithmetic" k1="0" k2="1" k3="0.6" k4="-0.47" result="m"/><feComposite in="m" in2="SourceAlpha" operator="in"/></filter><filter id="aBlur" x="-0.2" y="-0.2" width="1.4" height="1.4"><feGaussianBlur stdDeviation="0.9"/></filter><clipPath id="aClip"><polygon points="90.3,59.3 108.4,55.6 131.7,51.4 155.1,48.6 173.8,46.7 190.1,45.5 213.5,42.0 245.0,37.3 260.0,36.0 274.8,34.5 293.0,33.0 312.7,32.0 345.0,31.0 364.0,31.0 370.0,31.5 375.0,35.0 380.0,37.5 400.0,40.0 430.0,43.0 458.7,46.3 480.0,47.5 497.0,49.0 505.0,47.0 516.7,44.0 536.0,42.4 555.0,44.0 574.7,47.0 590.0,48.0 600.0,49.0 600.0,129.0 578.0,130.0 555.4,130.3 535.0,131.5 516.7,132.0 497.0,131.0 478.0,130.0 455.0,129.5 440.0,128.3 436.0,125.0 420.0,122.5 390.0,121.5 361.0,120.7 340.0,122.0 318.0,123.6 295.0,122.5 274.8,121.0 240.0,121.5 199.0,121.0 170.0,122.0 150.0,122.0 130.0,122.5 115.0,123.0 90.5,123.0"/></clipPath></defs>
<text x="7.8" y="9.3" font-size="21" font-family='"Liberation Serif", serif' font-weight="bold" text-anchor="start" fill="#000" >a</text>
<polygon points="89.2,19.2 113.0,19.2 112.2,16.5 132.6,21.5 112.2,26.9 113.0,24.0 89.2,24.0" fill="#1f90d0"/>
<g filter="url(#aShade)"><g clip-path="url(#aClip)"><rect x="88.0" y="58.2" width="3.6" height="65.8" fill="url(#aS0)"/><rect x="91.0" y="57.5" width="3.6" height="66.5" fill="url(#aS1)"/><rect x="94.0" y="56.9" width="3.6" height="67.1" fill="url(#aS2)"/><rect x="97.0" y="56.3" width="3.6" height="67.7" fill="url(#aS3)"/><rect x="100.0" y="55.7" width="3.6" height="68.3" fill="url(#aS4)"/><rect x="103.0" y="55.1" width="3.6" height="68.9" fill="url(#aS5)"/><rect x="106.0" y="54.5" width="3.6" height="69.5" fill="url(#aS6)"/><rect x="109.0" y="54.0" width="3.6" height="70.0" fill="url(#aS7)"/><rect x="112.0" y="53.4" width="3.6" height="70.6" fill="url(#aS8)"/><rect x="115.0" y="52.9" width="3.6" height="71.1" fill="url(#aS9)"/><rect x="118.0" y="52.3" width="3.6" height="71.6" fill="url(#aS10)"/><rect x="121.0" y="51.8" width="3.6" height="72.0" fill="url(#aS11)"/><rect x="124.0" y="51.2" width="3.6" height="72.5" fill="url(#aS12)"/><rect x="127.0" y="50.7" width="3.6" height="72.9" fill="url(#aS13)"/><rect x="130.0" y="50.2" width="3.6" height="73.3" fill="url(#aS14)"/><rect x="133.0" y="49.9" width="3.6" height="73.5" fill="url(#aS15)"/><rect x="136.0" y="49.5" width="3.6" height="73.8" fill="url(#aS16)"/><rect x="139.0" y="49.2" width="3.6" height="74.1" fill="url(#aS17)"/><rect x="142.0" y="48.8" width="3.6" height="74.4" fill="url(#aS18)"/><rect x="145.0" y="48.4" width="3.6" height="74.7" fill="url(#aS19)"/><rect x="148.0" y="48.1" width="3.6" height="75.0" fill="url(#aS20)"/><rect x="151.0" y="47.7" width="3.6" height="75.3" fill="url(#aS21)"/><rect x="154.0" y="47.4" width="3.6" height="75.6" fill="url(#aS22)"/><rect x="157.0" y="47.1" width="3.6" height="75.9" fill="url(#aS23)"/><rect x="160.0" y="46.8" width="3.6" height="76.2" fill="url(#aS24)"/><rect x="163.0" y="46.5" width="3.6" height="76.5" fill="url(#aS25)"/><rect x="166.0" y="46.2" width="3.6" height="76.8" fill="url(#aS26)"/><rect x="169.0" y="45.9" width="3.6" height="77.1" fill="url(#aS27)"/><rect x="172.0" y="45.6" width="3.6" height="77.3" fill="url(#aS28)"/><rect x="175.0" y="45.4" width="3.6" height="77.4" fill="url(#aS29)"/><rect x="178.0" y="45.2" width="3.6" height="77.6" fill="url(#aS30)"/><rect x="181.0" y="44.9" width="3.6" height="77.7" fill="url(#aS31)"/><rect x="184.0" y="44.7" width="3.6" height="77.8" fill="url(#aS32)"/><rect x="187.0" y="44.5" width="3.6" height="77.9" fill="url(#aS33)"/><rect x="190.0" y="44.1" width="3.6" height="78.2" fill="url(#aS34)"/><rect x="193.0" y="43.6" width="3.6" height="78.6" fill="url(#aS35)"/><rect x="196.0" y="43.2" width="3.6" height="78.9" fill="url(#aS36)"/><rect x="199.0" y="42.7" width="3.6" height="79.3" fill="url(#aS37)"/><rect x="202.0" y="42.3" width="3.6" height="79.8" fill="url(#aS38)"/><rect x="205.0" y="41.8" width="3.6" height="80.3" fill="url(#aS39)"/><rect x="208.0" y="41.4" width="3.6" height="80.8" fill="url(#aS40)"/><rect x="211.0" y="40.9" width="3.6" height="81.3" fill="url(#aS41)"/><rect x="214.0" y="40.5" width="3.6" height="81.7" fill="url(#aS42)"/><rect x="217.0" y="40.0" width="3.6" height="82.2" fill="url(#aS43)"/><rect x="220.0" y="39.6" width="3.6" height="82.7" fill="url(#aS44)"/><rect x="223.0" y="39.1" width="3.6" height="83.2" fill="url(#aS45)"/><rect x="226.0" y="38.7" width="3.6" height="83.7" fill="url(#aS46)"/><rect x="229.0" y="38.2" width="3.6" height="84.2" fill="url(#aS47)"/><rect x="232.0" y="37.8" width="3.6" height="84.6" fill="url(#aS48)"/><rect x="235.0" y="37.3" width="3.6" height="85.1" fill="url(#aS49)"/><rect x="238.0" y="36.9" width="3.6" height="85.6" fill="url(#aS50)"/><rect x="241.0" y="36.4" width="3.6" height="86.0" fill="url(#aS51)"/><rect x="244.0" y="36.1" width="3.6" height="86.3" fill="url(#aS52)"/><rect x="247.0" y="35.9" width="3.6" height="86.5" fill="url(#aS53)"/><rect x="250.0" y="35.6" width="3.6" height="86.7" fill="url(#aS54)"/><rect x="253.0" y="35.3" width="3.6" height="87.0" fill="url(#aS55)"/><rect x="256.0" y="35.1" width="3.6" height="87.2" fill="url(#aS56)"/><rect x="259.0" y="34.8" width="3.6" height="87.4" fill="url(#aS57)"/><rect x="262.0" y="34.5" width="3.6" height="87.7" fill="url(#aS58)"/><rect x="265.0" y="34.2" width="3.6" height="88.0" fill="url(#aS59)"/><rect x="268.0" y="33.9" width="3.6" height="88.2" fill="url(#aS60)"/><rect x="271.0" y="33.6" width="3.6" height="88.5" fill="url(#aS61)"/><rect x="274.0" y="33.3" width="3.6" height="88.8" fill="url(#aS62)"/><rect x="277.0" y="33.1" width="3.6" height="89.3" fill="url(#aS63)"/><rect x="280.0" y="32.8" width="3.6" height="89.8" fill="url(#aS64)"/><rect x="283.0" y="32.6" width="3.6" height="90.3" fill="url(#aS65)"/><rect x="286.0" y="32.3" width="3.6" height="90.7" fill="url(#aS66)"/><rect x="289.0" y="32.1" width="3.6" height="91.2" fill="url(#aS67)"/><rect x="292.0" y="31.9" width="3.6" height="91.6" fill="url(#aS68)"/><rect x="295.0" y="31.7" width="3.6" height="91.9" fill="url(#aS69)"/><rect x="298.0" y="31.6" width="3.6" height="92.2" fill="url(#aS70)"/><rect x="301.0" y="31.4" width="3.6" height="92.5" fill="url(#aS71)"/><rect x="304.0" y="31.3" width="3.6" height="92.8" fill="url(#aS72)"/><rect x="307.0" y="31.1" width="3.6" height="93.1" fill="url(#aS73)"/><rect x="310.0" y="31.0" width="3.6" height="93.4" fill="url(#aS74)"/><rect x="313.0" y="30.9" width="3.6" height="93.6" fill="url(#aS75)"/><rect x="316.0" y="30.8" width="3.6" height="93.7" fill="url(#aS76)"/><rect x="319.0" y="30.7" width="3.6" height="93.8" fill="url(#aS77)"/><rect x="322.0" y="30.6" width="3.6" height="93.7" fill="url(#aS78)"/><rect x="325.0" y="30.5" width="3.6" height="93.6" fill="url(#aS79)"/><rect x="328.0" y="30.4" width="3.6" height="93.4" fill="url(#aS80)"/><rect x="331.0" y="30.3" width="3.6" height="93.3" fill="url(#aS81)"/><rect x="334.0" y="30.2" width="3.6" height="93.2" fill="url(#aS82)"/><rect x="337.0" y="30.2" width="3.6" height="93.1" fill="url(#aS83)"/><rect x="340.0" y="30.1" width="3.6" height="92.9" fill="url(#aS84)"/><rect x="343.0" y="30.0" width="3.6" height="92.8" fill="url(#aS85)"/><rect x="346.0" y="30.0" width="3.6" height="92.6" fill="url(#aS86)"/><rect x="349.0" y="30.0" width="3.6" height="92.4" fill="url(#aS87)"/><rect x="352.0" y="30.0" width="3.6" height="92.3" fill="url(#aS88)"/><rect x="355.0" y="30.0" width="3.6" height="92.1" fill="url(#aS89)"/><rect x="358.0" y="30.0" width="3.6" height="91.9" fill="url(#aS90)"/><rect x="361.0" y="30.0" width="3.6" height="91.8" fill="url(#aS91)"/><rect x="364.0" y="30.0" width="3.6" height="91.9" fill="url(#aS92)"/><rect x="367.0" y="30.2" width="3.6" height="91.7" fill="url(#aS93)"/><rect x="370.0" y="30.5" width="3.6" height="91.5" fill="url(#aS94)"/><rect x="373.0" y="32.6" width="3.6" height="89.5" fill="url(#aS95)"/><rect x="376.0" y="34.5" width="3.6" height="87.7" fill="url(#aS96)"/><rect x="379.0" y="36.0" width="3.6" height="86.3" fill="url(#aS97)"/><rect x="382.0" y="36.7" width="3.6" height="85.6" fill="url(#aS98)"/><rect x="385.0" y="37.1" width="3.6" height="85.3" fill="url(#aS99)"/><rect x="388.0" y="37.5" width="3.6" height="85.0" fill="url(#aS100)"/><rect x="391.0" y="37.9" width="3.6" height="84.8" fill="url(#aS101)"/><rect x="394.0" y="38.2" width="3.6" height="84.5" fill="url(#aS102)"/><rect x="397.0" y="38.6" width="3.6" height="84.2" fill="url(#aS103)"/><rect x="400.0" y="39.0" width="3.6" height="83.9" fill="url(#aS104)"/><rect x="403.0" y="39.3" width="3.6" height="83.7" fill="url(#aS105)"/><rect x="406.0" y="39.6" width="3.6" height="83.5" fill="url(#aS106)"/><rect x="409.0" y="39.9" width="3.6" height="83.3" fill="url(#aS107)"/><rect x="412.0" y="40.2" width="3.6" height="83.1" fill="url(#aS108)"/><rect x="415.0" y="40.5" width="3.6" height="82.9" fill="url(#aS109)"/><rect x="418.0" y="40.8" width="3.6" height="82.9" fill="url(#aS110)"/><rect x="421.0" y="41.1" width="3.6" height="83.0" fill="url(#aS111)"/><rect x="424.0" y="41.4" width="3.6" height="83.2" fill="url(#aS112)"/><rect x="427.0" y="41.7" width="3.6" height="83.4" fill="url(#aS113)"/><rect x="430.0" y="42.0" width="3.6" height="83.5" fill="url(#aS114)"/><rect x="433.0" y="42.3" width="3.6" height="83.7" fill="url(#aS115)"/><rect x="436.0" y="42.7" width="3.6" height="85.8" fill="url(#aS116)"/><rect x="439.0" y="43.0" width="3.6" height="86.4" fill="url(#aS117)"/><rect x="442.0" y="43.4" width="3.6" height="86.3" fill="url(#aS118)"/><rect x="445.0" y="43.7" width="3.6" height="86.2" fill="url(#aS119)"/><rect x="448.0" y="44.1" width="3.6" height="86.1" fill="url(#aS120)"/><rect x="451.0" y="44.4" width="3.6" height="86.0" fill="url(#aS121)"/><rect x="454.0" y="44.8" width="3.6" height="85.8" fill="url(#aS122)"/><rect x="457.0" y="45.1" width="3.6" height="85.5" fill="url(#aS123)"/><rect x="460.0" y="45.4" width="3.6" height="85.3" fill="url(#aS124)"/><rect x="463.0" y="45.5" width="3.6" height="85.2" fill="url(#aS125)"/><rect x="466.0" y="45.7" width="3.6" height="85.1" fill="url(#aS126)"/><rect x="469.0" y="45.9" width="3.6" height="85.0" fill="url(#aS127)"/><rect x="472.0" y="46.0" width="3.6" height="84.9" fill="url(#aS128)"/><rect x="475.0" y="46.2" width="3.6" height="84.8" fill="url(#aS129)"/><rect x="478.0" y="46.4" width="3.6" height="84.8" fill="url(#aS130)"/><rect x="481.0" y="46.6" width="3.6" height="84.7" fill="url(#aS131)"/><rect x="484.0" y="46.9" width="3.6" height="84.6" fill="url(#aS132)"/><rect x="487.0" y="47.1" width="3.6" height="84.5" fill="url(#aS133)"/><rect x="490.0" y="47.4" width="3.6" height="84.4" fill="url(#aS134)"/><rect x="493.0" y="47.6" width="3.6" height="84.3" fill="url(#aS135)"/><rect x="496.0" y="47.5" width="3.6" height="84.6" fill="url(#aS136)"/><rect x="499.0" y="46.8" width="3.6" height="85.5" fill="url(#aS137)"/><rect x="502.0" y="46.0" width="3.6" height="86.4" fill="url(#aS138)"/><rect x="505.0" y="45.2" width="3.6" height="87.3" fill="url(#aS139)"/><rect x="508.0" y="44.5" width="3.6" height="88.2" fill="url(#aS140)"/><rect x="511.0" y="43.7" width="3.6" height="89.2" fill="url(#aS141)"/><rect x="514.0" y="43.0" width="3.6" height="90.0" fill="url(#aS142)"/><rect x="517.0" y="42.7" width="3.6" height="90.3" fill="url(#aS143)"/><rect x="520.0" y="42.5" width="3.6" height="90.4" fill="url(#aS144)"/><rect x="523.0" y="42.2" width="3.6" height="90.6" fill="url(#aS145)"/><rect x="526.0" y="42.0" width="3.6" height="90.8" fill="url(#aS146)"/><rect x="529.0" y="41.7" width="3.6" height="90.9" fill="url(#aS147)"/><rect x="532.0" y="41.5" width="3.6" height="91.1" fill="url(#aS148)"/><rect x="535.0" y="41.5" width="3.6" height="91.0" fill="url(#aS149)"/><rect x="538.0" y="41.6" width="3.6" height="90.8" fill="url(#aS150)"/><rect x="541.0" y="41.8" width="3.6" height="90.3" fill="url(#aS151)"/><rect x="544.0" y="42.1" width="3.6" height="89.9" fill="url(#aS152)"/><rect x="547.0" y="42.3" width="3.6" height="89.5" fill="url(#aS153)"/><rect x="550.0" y="42.6" width="3.6" height="89.0" fill="url(#aS154)"/><rect x="553.0" y="42.8" width="3.6" height="88.6" fill="url(#aS155)"/><rect x="556.0" y="43.2" width="3.6" height="88.1" fill="url(#aS156)"/><rect x="559.0" y="43.6" width="3.6" height="87.6" fill="url(#aS157)"/><rect x="562.0" y="44.1" width="3.6" height="87.1" fill="url(#aS158)"/><rect x="565.0" y="44.5" width="3.6" height="86.6" fill="url(#aS159)"/><rect x="568.0" y="45.0" width="3.6" height="86.2" fill="url(#aS160)"/><rect x="571.0" y="45.4" width="3.6" height="85.7" fill="url(#aS161)"/><rect x="574.0" y="45.9" width="3.6" height="85.2" fill="url(#aS162)"/><rect x="577.0" y="46.2" width="3.6" height="84.9" fill="url(#aS163)"/><rect x="580.0" y="46.3" width="3.6" height="84.6" fill="url(#aS164)"/><rect x="583.0" y="46.5" width="3.6" height="84.2" fill="url(#aS165)"/><rect x="586.0" y="46.7" width="3.6" height="83.9" fill="url(#aS166)"/><rect x="589.0" y="46.9" width="3.6" height="83.6" fill="url(#aS167)"/><rect x="592.0" y="47.2" width="3.6" height="83.2" fill="url(#aS168)"/><rect x="595.0" y="47.5" width="3.6" height="82.7" fill="url(#aS169)"/><rect x="598.0" y="47.8" width="3.6" height="82.3" fill="url(#aS170)"/><rect x="601.0" y="48.0" width="3.6" height="82.0" fill="url(#aS171)"/></g></g>
<g clip-path="url(#aClip)"><g filter="url(#aBlur)"><path d="M451.0,45.0 C450.2,49.2 447.8,60.8 446.0,70.0 C444.2,79.2 442.0,90.5 440.0,100.0 C438.0,109.5 435.0,122.5 434.0,127.0" fill="none" stroke="#1c1c40" stroke-width="3.6" stroke-opacity="0.54"/><path d="M473.0,48.0 C471.7,52.5 468.0,65.8 465.0,75.0 C462.0,84.2 458.2,94.0 455.0,103.0 C451.8,112.0 447.5,124.7 446.0,129.0" fill="none" stroke="#1c1c40" stroke-width="3.6" stroke-opacity="0.54"/><path d="M388.0,40.0 C386.7,45.0 383.3,60.0 380.0,70.0 C376.7,80.0 371.3,91.5 368.0,100.0 C364.7,108.5 361.3,117.5 360.0,121.0" fill="none" stroke="#1c1c40" stroke-width="2.16" stroke-opacity="0.27"/><path d="M545.0,55.0 C543.3,57.2 538.7,63.0 535.0,68.0 C531.3,73.0 525.0,82.2 523.0,85.0" fill="none" stroke="#1c1c40" stroke-width="2.8800000000000003" stroke-opacity="0.45"/><path d="M588.0,52.0 C587.2,55.8 584.7,67.0 583.0,75.0 C581.3,83.0 580.2,91.7 578.0,100.0 C575.8,108.3 571.3,120.8 570.0,125.0" fill="none" stroke="#1c1c40" stroke-width="2.16" stroke-opacity="0.36000000000000004"/><path d="M300.0,40.0 C298.0,43.0 292.7,52.2 288.0,58.0 C283.3,63.8 274.7,72.2 272.0,75.0" fill="none" stroke="#1c1c40" stroke-width="2.52" stroke-opacity="0.36000000000000004"/><path d="M330.0,55.0 C328.0,58.8 322.2,71.3 318.0,78.0 C313.8,84.7 307.2,92.2 305.0,95.0" fill="none" stroke="#1c1c40" stroke-width="2.16" stroke-opacity="0.315"/><path d="M265.0,45.0 C262.8,47.8 256.2,56.5 252.0,62.0 C247.8,67.5 242.0,75.3 240.0,78.0" fill="none" stroke="#1c1c40" stroke-width="2.16" stroke-opacity="0.315"/><path d="M345.0,70.0 C344.2,74.2 342.0,87.0 340.0,95.0 C338.0,103.0 334.2,114.2 333.0,118.0" fill="none" stroke="#1c1c40" stroke-width="1.8" stroke-opacity="0.27"/></g></g>
<polygon points="87.4,59.9 126.8,68.1 114.8,120.7 75.1,111.9" fill="#fffdf2" fill-opacity="0.68" stroke="#6a6a6a" stroke-width="0.7"/>
<circle cx="100.0" cy="90.2" r="3.1" fill="#fff"/>
<circle cx="127.6" cy="90.2" r="3.1" fill="#fff"/>
<circle cx="155.3" cy="90.2" r="3.1" fill="#fff"/>
<circle cx="182.9" cy="90.2" r="3.1" fill="#fff"/>
<circle cx="210.6" cy="90.2" r="3.1" fill="#fff"/>
<circle cx="238.2" cy="90.2" r="3.1" fill="#fff"/>
<circle cx="265.9" cy="90.2" r="3.1" fill="#fff"/>
<circle cx="293.5" cy="90.2" r="3.1" fill="#fff"/>
<circle cx="321.2" cy="90.2" r="3.1" fill="#fff"/>
<circle cx="348.8" cy="90.2" r="3.1" fill="#fff"/>
<circle cx="376.5" cy="90.2" r="3.1" fill="#fff"/>
<circle cx="404.1" cy="90.2" r="3.1" fill="#fff"/>
<circle cx="431.8" cy="90.2" r="3.1" fill="#fff"/>
<circle cx="459.4" cy="90.2" r="3.1" fill="#fff"/>
<circle cx="487.1" cy="90.2" r="3.1" fill="#fff"/>
<circle cx="514.7" cy="90.2" r="3.1" fill="#fff"/>
<circle cx="542.4" cy="90.2" r="3.1" fill="#fff"/>
<circle cx="570.0" cy="90.2" r="3.1" fill="#fff"/>
<line x1="75.1" y1="111.9" x2="67.5" y2="142.5" stroke="#222" stroke-width="0.7" stroke-dasharray="1.4,1.1"/>
<line x1="114.8" y1="120.7" x2="107.2" y2="151.6" stroke="#222" stroke-width="0.7" stroke-dasharray="1.4,1.1"/>
<polygon points="81.8,145.3 81.2,147.5 71.4,145.0 71.0,146.3 67.3,142.8 72.3,141.5 71.9,142.8" fill="#111"/>
<polygon points="93.0,149.8 93.4,147.6 103.3,149.9 103.6,148.5 107.4,152.0 102.5,153.4 102.8,152.1" fill="#111"/>
<text x="85.0" y="159.6" font-size="13.2" font-family='"Liberation Serif", serif' font-weight="bold" text-anchor="middle" fill="#000" textLength="58" lengthAdjust="spacingAndGlyphs" transform="rotate(13.2 85.0 159.6)" >5km-10km</text>
<polygon points="77.7,75.5 74.9,74.7 78.5,61.4 76.7,61.0 81.4,56.0 83.0,62.6 81.2,62.2" fill="#111"/>
<polygon points="72.5,92.3 75.3,92.9 72.0,106.0 73.8,106.5 69.2,111.5 67.5,104.9 69.3,105.3" fill="#111"/>
<text x="71.5" y="80.4" font-size="13" font-family='"Liberation Serif", serif' font-weight="bold" text-anchor="middle" fill="#000" textLength="26" lengthAdjust="spacingAndGlyphs" transform="rotate(-76.4 71.5 80.4)" >&#177;40&#176;</text>
<rect x="607.9" y="11.6" width="13" height="164" fill="url(#aCbar)" stroke="#555" stroke-width="0.6"/>
<line x1="620.9" y1="11.6" x2="625.6" y2="11.6" stroke="#222" stroke-width="0.8"/>
<text x="627.6" y="13.8" font-size="10" font-family='"Liberation Serif", serif' font-weight="bold" text-anchor="start" fill="#000" textLength="23.6" lengthAdjust="spacingAndGlyphs" >-4000</text>
<line x1="620.9" y1="36.1" x2="625.6" y2="36.1" stroke="#222" stroke-width="0.8"/>
<line x1="620.9" y1="58.8" x2="625.6" y2="58.8" stroke="#222" stroke-width="0.8"/>
<text x="627.6" y="61.0" font-size="10" font-family='"Liberation Serif", serif' font-weight="bold" text-anchor="start" fill="#000" textLength="23.6" lengthAdjust="spacingAndGlyphs" >-5000</text>
<line x1="620.9" y1="81.8" x2="625.6" y2="81.8" stroke="#222" stroke-width="0.8"/>
<line x1="620.9" y1="104" x2="625.6" y2="104" stroke="#222" stroke-width="0.8"/>
<text x="627.6" y="106.2" font-size="10" font-family='"Liberation Serif", serif' font-weight="bold" text-anchor="start" fill="#000" textLength="23.6" lengthAdjust="spacingAndGlyphs" >-6000</text>
<line x1="620.9" y1="127" x2="625.6" y2="127" stroke="#222" stroke-width="0.8"/>
<line x1="620.9" y1="149" x2="625.6" y2="149" stroke="#222" stroke-width="0.8"/>
<text x="627.6" y="151.2" font-size="10" font-family='"Liberation Serif", serif' font-weight="bold" text-anchor="start" fill="#000" textLength="23.6" lengthAdjust="spacingAndGlyphs" >-7000</text>
<line x1="620.9" y1="174.7" x2="625.6" y2="174.7" stroke="#222" stroke-width="0.8"/>
<text x="627.6" y="176.9" font-size="10" font-family='"Liberation Serif", serif' font-weight="bold" text-anchor="start" fill="#000" textLength="23.6" lengthAdjust="spacingAndGlyphs" >-7579</text>
<text x="658.6" y="91.0" font-size="13.9" font-family='"Liberation Serif", serif' font-weight="normal" text-anchor="middle" fill="#000" transform="rotate(90 658.6 91.0)" >Depth(m)</text>
<text x="8.8" y="228.3" font-size="20.5" font-family='"Liberation Serif", serif' font-weight="bold" text-anchor="start" fill="#000" >b</text>
<line x1="58.1" y1="270.0" x2="58.1" y2="428.2" stroke="#333" stroke-width="1"/><line x1="54.9" y1="270.3" x2="58.1" y2="270.3" stroke="#333" stroke-width="0.8"/><text x="52.6" y="273.2" font-size="9.9" font-family='"Liberation Sans", sans-serif' font-weight="normal" text-anchor="end" fill="#222" textLength="24.56" lengthAdjust="spacingAndGlyphs" >-1000</text><line x1="56.1" y1="281.5" x2="58.1" y2="281.5" stroke="#333" stroke-width="0.8"/><line x1="54.9" y1="292.8" x2="58.1" y2="292.8" stroke="#333" stroke-width="0.8"/><text x="52.6" y="295.7" font-size="9.9" font-family='"Liberation Sans", sans-serif' font-weight="normal" text-anchor="end" fill="#222" textLength="24.56" lengthAdjust="spacingAndGlyphs" >-2000</text><line x1="56.1" y1="304.0" x2="58.1" y2="304.0" stroke="#333" stroke-width="0.8"/><line x1="54.9" y1="315.3" x2="58.1" y2="315.3" stroke="#333" stroke-width="0.8"/><text x="52.6" y="318.2" font-size="9.9" font-family='"Liberation Sans", sans-serif' font-weight="normal" text-anchor="end" fill="#222" textLength="24.56" lengthAdjust="spacingAndGlyphs" >-3000</text><line x1="56.1" y1="326.5" x2="58.1" y2="326.5" stroke="#333" stroke-width="0.8"/><line x1="54.9" y1="337.8" x2="58.1" y2="337.8" stroke="#333" stroke-width="0.8"/><text x="52.6" y="340.7" font-size="9.9" font-family='"Liberation Sans", sans-serif' font-weight="normal" text-anchor="end" fill="#222" textLength="24.56" lengthAdjust="spacingAndGlyphs" >-4000</text><line x1="56.1" y1="349.0" x2="58.1" y2="349.0" stroke="#333" stroke-width="0.8"/><line x1="54.9" y1="360.2" x2="58.1" y2="360.2" stroke="#333" stroke-width="0.8"/><text x="52.6" y="363.1" font-size="9.9" font-family='"Liberation Sans", sans-serif' font-weight="normal" text-anchor="end" fill="#222" textLength="24.56" lengthAdjust="spacingAndGlyphs" >-5000</text><line x1="56.1" y1="371.5" x2="58.1" y2="371.5" stroke="#333" stroke-width="0.8"/><line x1="54.9" y1="382.7" x2="58.1" y2="382.7" stroke="#333" stroke-width="0.8"/><text x="52.6" y="385.6" font-size="9.9" font-family='"Liberation Sans", sans-serif' font-weight="normal" text-anchor="end" fill="#222" textLength="24.56" lengthAdjust="spacingAndGlyphs" >-6000</text><line x1="56.1" y1="394.0" x2="58.1" y2="394.0" stroke="#333" stroke-width="0.8"/><line x1="54.9" y1="405.2" x2="58.1" y2="405.2" stroke="#333" stroke-width="0.8"/><text x="52.6" y="408.1" font-size="9.9" font-family='"Liberation Sans", sans-serif' font-weight="normal" text-anchor="end" fill="#222" textLength="24.56" lengthAdjust="spacingAndGlyphs" >-7000</text><line x1="56.1" y1="416.5" x2="58.1" y2="416.5" stroke="#333" stroke-width="0.8"/><line x1="54.9" y1="427.7" x2="58.1" y2="427.7" stroke="#333" stroke-width="0.8"/><text x="52.6" y="430.6" font-size="9.9" font-family='"Liberation Sans", sans-serif' font-weight="normal" text-anchor="end" fill="#222" textLength="24.56" lengthAdjust="spacingAndGlyphs" >-8000</text><line x1="57.6" y1="427.7" x2="312.3" y2="427.7" stroke="#333" stroke-width="1"/><line x1="58.1" y1="427.7" x2="58.1" y2="430.9" stroke="#333" stroke-width="0.8"/><text x="57.2" y="440.9" font-size="9.4" font-family='"Liberation Sans", sans-serif' font-weight="normal" text-anchor="middle" fill="#222" textLength="27.51" lengthAdjust="spacingAndGlyphs" >-40000</text><line x1="89.8" y1="427.7" x2="89.8" y2="429.7" stroke="#333" stroke-width="0.8"/><line x1="121.5" y1="427.7" x2="121.5" y2="430.9" stroke="#333" stroke-width="0.8"/><text x="120.6" y="440.9" font-size="9.4" font-family='"Liberation Sans", sans-serif' font-weight="normal" text-anchor="middle" fill="#222" textLength="27.51" lengthAdjust="spacingAndGlyphs" >-20000</text><line x1="153.2" y1="427.7" x2="153.2" y2="429.7" stroke="#333" stroke-width="0.8"/><line x1="185.0" y1="427.7" x2="185.0" y2="430.9" stroke="#333" stroke-width="0.8"/><text x="185.0" y="440.9" font-size="9.4" font-family='"Liberation Sans", sans-serif' font-weight="normal" text-anchor="middle" fill="#222" textLength="4.91" lengthAdjust="spacingAndGlyphs" >0</text><line x1="216.7" y1="427.7" x2="216.7" y2="429.7" stroke="#333" stroke-width="0.8"/><line x1="248.4" y1="427.7" x2="248.4" y2="430.9" stroke="#333" stroke-width="0.8"/><text x="248.4" y="440.9" font-size="9.4" font-family='"Liberation Sans", sans-serif' font-weight="normal" text-anchor="middle" fill="#222" textLength="24.57" lengthAdjust="spacingAndGlyphs" >20000</text><line x1="280.1" y1="427.7" x2="280.1" y2="429.7" stroke="#333" stroke-width="0.8"/><line x1="311.8" y1="427.7" x2="311.8" y2="430.9" stroke="#333" stroke-width="0.8"/><text x="311.8" y="440.9" font-size="9.4" font-family='"Liberation Sans", sans-serif' font-weight="normal" text-anchor="middle" fill="#222" textLength="24.57" lengthAdjust="spacingAndGlyphs" >40000</text><line x1="311.8" y1="270.0" x2="311.8" y2="428.2" stroke="#3c5cae" stroke-width="1"/><line x1="311.8" y1="270.3" x2="315.3" y2="270.3" stroke="#3c5cae" stroke-width="0.8"/><text x="317.0" y="273.4" font-size="10.1" font-family='"Liberation Sans", sans-serif' font-weight="normal" text-anchor="start" fill="#3c5cae" >6</text><line x1="311.8" y1="279.0" x2="313.8" y2="279.0" stroke="#3c5cae" stroke-width="0.8"/><line x1="311.8" y1="287.8" x2="315.3" y2="287.8" stroke="#3c5cae" stroke-width="0.8"/><text x="317.0" y="290.9" font-size="10.1" font-family='"Liberation Sans", sans-serif' font-weight="normal" text-anchor="start" fill="#3c5cae" >5</text><line x1="311.8" y1="296.5" x2="313.8" y2="296.5" stroke="#3c5cae" stroke-width="0.8"/><line x1="311.8" y1="305.3" x2="315.3" y2="305.3" stroke="#3c5cae" stroke-width="0.8"/><text x="317.0" y="308.4" font-size="10.1" font-family='"Liberation Sans", sans-serif' font-weight="normal" text-anchor="start" fill="#3c5cae" >4</text><line x1="311.8" y1="314.0" x2="313.8" y2="314.0" stroke="#3c5cae" stroke-width="0.8"/><line x1="311.8" y1="322.8" x2="315.3" y2="322.8" stroke="#3c5cae" stroke-width="0.8"/><text x="317.0" y="325.9" font-size="10.1" font-family='"Liberation Sans", sans-serif' font-weight="normal" text-anchor="start" fill="#3c5cae" >3</text><line x1="311.8" y1="331.5" x2="313.8" y2="331.5" stroke="#3c5cae" stroke-width="0.8"/><line x1="311.8" y1="340.3" x2="315.3" y2="340.3" stroke="#3c5cae" stroke-width="0.8"/><text x="317.0" y="343.4" font-size="10.1" font-family='"Liberation Sans", sans-serif' font-weight="normal" text-anchor="start" fill="#3c5cae" >2</text><line x1="311.8" y1="349.0" x2="313.8" y2="349.0" stroke="#3c5cae" stroke-width="0.8"/><line x1="311.8" y1="357.7" x2="315.3" y2="357.7" stroke="#3c5cae" stroke-width="0.8"/><text x="317.0" y="360.8" font-size="10.1" font-family='"Liberation Sans", sans-serif' font-weight="normal" text-anchor="start" fill="#3c5cae" >1</text><line x1="311.8" y1="366.5" x2="313.8" y2="366.5" stroke="#3c5cae" stroke-width="0.8"/><line x1="311.8" y1="375.2" x2="315.3" y2="375.2" stroke="#3c5cae" stroke-width="0.8"/><text x="317.0" y="378.3" font-size="10.1" font-family='"Liberation Sans", sans-serif' font-weight="normal" text-anchor="start" fill="#3c5cae" >0</text><line x1="311.8" y1="384.0" x2="313.8" y2="384.0" stroke="#3c5cae" stroke-width="0.8"/><line x1="311.8" y1="392.7" x2="315.3" y2="392.7" stroke="#3c5cae" stroke-width="0.8"/><text x="317.0" y="395.8" font-size="10.1" font-family='"Liberation Sans", sans-serif' font-weight="normal" text-anchor="start" fill="#3c5cae" >-1</text><line x1="311.8" y1="401.5" x2="313.8" y2="401.5" stroke="#3c5cae" stroke-width="0.8"/><line x1="311.8" y1="410.2" x2="315.3" y2="410.2" stroke="#3c5cae" stroke-width="0.8"/><text x="317.0" y="413.3" font-size="10.1" font-family='"Liberation Sans", sans-serif' font-weight="normal" text-anchor="start" fill="#3c5cae" >-2</text><line x1="311.8" y1="419.0" x2="313.8" y2="419.0" stroke="#3c5cae" stroke-width="0.8"/><line x1="311.8" y1="427.7" x2="315.3" y2="427.7" stroke="#3c5cae" stroke-width="0.8"/><text x="317.0" y="430.8" font-size="10.1" font-family='"Liberation Sans", sans-serif' font-weight="normal" text-anchor="start" fill="#3c5cae" >-3</text>
<text x="22.7" y="345.7" font-size="11.8" font-family='"Liberation Serif", serif' font-weight="normal" text-anchor="middle" fill="#111" textLength="48.8" lengthAdjust="spacingAndGlyphs" transform="rotate(-90 22.7 345.7)" >Depth (m)</text>
<text x="329.7" y="349.8" font-size="12" font-family='"Liberation Serif", serif' font-weight="normal" text-anchor="middle" fill="#3c5cae" textLength="91.5" lengthAdjust="spacingAndGlyphs" transform="rotate(90 329.7 349.8)" >Seafloor Uplift (m)</text>
<text x="185.3" y="456.0" font-size="9.8" font-family='"Liberation Sans", sans-serif' font-weight="normal" text-anchor="middle" fill="#111" textLength="94.8" lengthAdjust="spacingAndGlyphs" >Distance to trench (m)</text>
<line x1="142.0" y1="270" x2="142.0" y2="427.7" stroke="#999" stroke-width="1" stroke-dasharray="3.5,2.5"/>
<line x1="216.8" y1="270" x2="216.8" y2="427.7" stroke="#c8c8c8" stroke-width="1" stroke-dasharray="1,2"/>
<path d="M57.9,274.7 C59.2,275.1 63.1,276.2 65.5,277.1 C67.9,278.1 69.9,279.0 72.1,280.4 C74.3,281.8 76.5,283.7 78.7,285.7 C80.9,287.7 83.0,290.0 85.2,292.2 C87.4,294.4 89.6,296.6 91.8,298.8 C94.0,301.0 96.2,303.5 98.4,305.4 C100.6,307.3 102.9,308.9 104.9,310.0 C106.9,311.1 108.2,311.6 110.2,311.7 C112.2,311.8 114.4,311.5 116.8,310.9 C119.2,310.3 121.7,309.1 124.6,308.0 C127.5,306.9 131.3,305.2 134.2,304.3 C137.1,303.4 139.6,302.9 142.1,302.8 C144.6,302.7 146.8,302.8 149.3,303.7 C151.8,304.6 154.7,306.3 156.9,308.5 C159.1,310.7 160.7,314.2 162.6,317.0 C164.5,319.8 166.1,321.9 168.3,325.5 C170.5,329.1 173.1,334.4 175.9,338.8 C178.8,343.2 182.2,348.3 185.4,352.1 C188.6,355.9 191.7,358.4 194.9,361.6 C198.1,364.8 200.8,367.6 204.4,371.1 C208.0,374.6 214.6,380.6 216.7,382.5" fill="none" stroke="#4a6ed0" stroke-width="1.2" stroke-dasharray="4.5,3"/>
<path d="M57.9,291.2 C59.2,291.5 62.9,292.2 65.5,292.9 C68.1,293.6 70.8,294.5 73.4,295.5 C76.0,296.5 78.7,297.7 81.3,298.8 C83.9,299.9 86.6,301.1 89.2,302.1 C91.8,303.1 94.4,303.7 97.0,304.7 C99.6,305.7 102.5,306.8 104.9,308.0 C107.3,309.2 109.1,310.4 111.5,311.7 C113.9,313.0 116.6,314.3 119.4,315.9 C122.2,317.5 126.1,319.9 128.6,321.1 C131.1,322.3 131.9,322.4 134.2,323.3 C136.4,324.2 139.6,325.9 142.1,326.5 C144.6,327.1 146.8,327.3 149.3,327.1 C151.8,326.9 154.4,326.1 156.9,325.5 C159.4,324.9 162.0,323.7 164.5,323.3 C167.0,322.9 169.6,322.8 172.1,323.3 C174.6,323.8 177.2,324.2 179.7,326.5 C182.2,328.8 184.8,332.9 187.3,336.9 C189.8,340.8 192.4,345.4 194.9,350.2 C197.4,354.9 200.3,360.6 202.5,365.4 C204.7,370.1 205.8,373.2 208.2,378.7 C210.6,384.2 215.3,395.3 216.7,398.6" fill="none" stroke="#f05038" stroke-width="1.2" stroke-dasharray="4.5,3"/>
<polyline points="58.1,341.0 62.9,342.4 68.1,345.4 72.1,346.7 76.0,348.7 78.7,351.3 82.0,354.5 86.6,359.3 90.0,360.2 94.7,360.0 99.0,361.0 104.1,362.8 107.6,366.4 113.3,371.1 119.0,373.4 124.7,373.0 130.4,374.9 133.0,377.5 136.1,382.5 139.9,389.1 142.7,391.0 146.5,390.1 148.5,393.5 150.3,397.7 154.3,403.0 157.0,404.5 160.2,405.3 166.0,407.2 168.5,410.5 170.7,413.0 175.0,413.5 180.0,414.2 185.2,416.5 188.7,414.2 194.0,412.5 200.4,410.7 208.5,408.3 215.5,405.3 217.9,409.0 221.4,410.0 224.5,409.5 227.2,407.6 230.7,403.7 235.4,397.8 240.0,395.5 247.1,394.3 255.0,392.3 263.4,389.6 271.0,387.5 279.8,385.0 284.5,382.6 289.1,383.8 296.1,382.6 299.6,381.5 300.8,379.1 304.3,378.4" fill="none" stroke="#111" stroke-width="1.7" stroke-linejoin="round"/>
<line x1="146.5" y1="373.0" x2="110.6" y2="318.0" stroke="#4a6ed0" stroke-width="0.9"/><polygon points="108.4,314.6 112.8,317.7 109.5,319.9" fill="#4a6ed0"/>
<line x1="155.0" y1="373.0" x2="149.0" y2="332.4" stroke="#f03a30" stroke-width="0.9"/><polygon points="148.4,328.4 151.1,333.1 147.2,333.6" fill="#f03a30"/>
<line x1="234.2" y1="277.5" x2="254.6" y2="277.5" stroke="#111" stroke-width="1.2"/>
<line x1="234.2" y1="288.5" x2="254.6" y2="288.5" stroke="#4a6ed0" stroke-width="1" stroke-dasharray="3.5,2.5"/>
<line x1="234.2" y1="299.2" x2="254.6" y2="299.2" stroke="#f05038" stroke-width="1" stroke-dasharray="3.5,2.5"/>
<text x="256.8" y="281.0" font-size="8.9" font-family='"Liberation Sans", sans-serif' font-weight="normal" text-anchor="start" fill="#111" >Depth</text>
<text x="256.8" y="291.5" font-size="8.9" font-family='"Liberation Sans", sans-serif' font-weight="normal" text-anchor="start" fill="#111" textLength="20.89" lengthAdjust="spacingAndGlyphs" >20km</text>
<text x="256.8" y="302.5" font-size="8.9" font-family='"Liberation Sans", sans-serif' font-weight="normal" text-anchor="start" fill="#111" textLength="20.89" lengthAdjust="spacingAndGlyphs" >40km</text>
<text x="74.6" y="275.2" font-size="8.8" font-family='"Liberation Serif", serif' font-weight="bold" text-anchor="start" fill="#111" textLength="57.5" lengthAdjust="spacingAndGlyphs" >Uplift decrease</text>
<text x="141.4" y="382.5" font-size="8.6" font-family='"Liberation Serif", serif' font-weight="bold" text-anchor="start" fill="#111" textLength="53" lengthAdjust="spacingAndGlyphs" >Trend Reversal</text>
<text x="67.6" y="393.6" font-size="8.6" font-family='"Liberation Serif", serif' font-weight="bold" text-anchor="start" fill="#8c8c8c" textLength="67.7" lengthAdjust="spacingAndGlyphs" >Backstop interface</text>
<text x="67.6" y="408.5" font-size="8.6" font-family='"Liberation Serif", serif' font-weight="bold" text-anchor="start" fill="#8c8c8c" textLength="28.3" lengthAdjust="spacingAndGlyphs" >outcrop</text>
<line x1="69.6" y1="415.3" x2="132.7" y2="415.3" stroke="#8a8a8a" stroke-width="0.9"/><polygon points="136.7,415.3 131.7,417.3 131.7,413.3" fill="#8a8a8a"/>
<defs><linearGradient id="cJet" x1="0" y1="0" x2="0" y2="1"><stop offset="0" stop-color="#e83030"/><stop offset="0.18" stop-color="#f07030"/><stop offset="0.35" stop-color="#f0d040"/><stop offset="0.43" stop-color="#c8d040"/><stop offset="0.55" stop-color="#70b840"/><stop offset="0.66" stop-color="#40a848"/><stop offset="0.7" stop-color="#307880"/><stop offset="0.73" stop-color="#3858b0"/><stop offset="0.9" stop-color="#4850b0"/><stop offset="1" stop-color="#6050b0"/></linearGradient><filter id="cField" x="0" y="0" width="1" height="1" color-interpolation-filters="sRGB"><feTurbulence type="fractalNoise" baseFrequency="0.3 0.12" numOctaves="3" seed="7"/><feColorMatrix type="matrix" values="1 0 0 0 0  1 0 0 0 0  1 0 0 0 0  0 0 0 0 1"/><feComponentTransfer><feFuncR type="table" tableValues="0.188 0.188 0.188 0.235 0.361 0.455 0.471 0.494 0.518 0.549 0.643 0.784 0.878 0.925 0.941 0.910 0.878 0.878 0.878 0.878 0.878"/><feFuncG type="table" tableValues="0.251 0.251 0.251 0.345 0.682 0.745 0.753 0.761 0.776 0.784 0.816 0.863 0.878 0.800 0.627 0.408 0.165 0.165 0.165 0.165 0.165"/><feFuncB type="table" tableValues="0.690 0.690 0.690 0.753 0.298 0.251 0.251 0.259 0.259 0.259 0.259 0.251 0.251 0.220 0.188 0.157 0.125 0.125 0.125 0.125 0.125"/></feComponentTransfer></filter><filter id="cField2" x="0" y="0" width="1" height="1" color-interpolation-filters="sRGB"><feTurbulence type="fractalNoise" baseFrequency="0.11 0.06" numOctaves="3" seed="11"/><feColorMatrix type="matrix" values="1 0 0 0 0  1 0 0 0 0  1 0 0 0 0  0 0 0 0 1"/><feComponentTransfer><feFuncR type="table" tableValues="0.188 0.188 0.188 0.188 0.204 0.314 0.424 0.455 0.478 0.502 0.525 0.596 0.784 0.894 0.910 0.933 0.925 0.894 0.878 0.878 0.878"/><feFuncG type="table" tableValues="0.251 0.251 0.251 0.251 0.314 0.627 0.722 0.745 0.761 0.769 0.776 0.800 0.863 0.878 0.824 0.675 0.478 0.290 0.165 0.165 0.165"/><feFuncB type="table" tableValues="0.690 0.690 0.690 0.690 0.753 0.314 0.251 0.251 0.267 0.267 0.267 0.259 0.251 0.251 0.235 0.204 0.173 0.141 0.125 0.125 0.125"/></feComponentTransfer></filter><linearGradient id="cTint" gradientUnits="userSpaceOnUse" x1="390" y1="0" x2="645" y2="0"><stop offset="0" stop-color="#e8d040" stop-opacity="0.3"/><stop offset="0.35" stop-color="#e8d040" stop-opacity="0.15"/><stop offset="0.5" stop-color="#70bc40" stop-opacity="0.1"/><stop offset="1" stop-color="#70bc40" stop-opacity="0.25"/></linearGradient><filter id="cBlur2" x="-0.5" y="-0.5" width="2" height="2"><feGaussianBlur stdDeviation="0.7"/></filter><filter id="cBlur" x="-0.5" y="-0.5" width="2" height="2"><feTurbulence type="fractalNoise" baseFrequency="0.25" numOctaves="2" seed="4" result="t"/><feDisplacementMap in="SourceGraphic" in2="t" scale="7" xChannelSelector="R" yChannelSelector="G" result="dd"/><feGaussianBlur in="dd" stdDeviation="0.6"/></filter><clipPath id="cInClip"><rect x="548" y="233.3" width="119.7" height="109"/></clipPath></defs>
<rect x="390.5" y="189.5" width="254" height="26.5" filter="url(#cField)"/>
<rect x="390.5" y="189.5" width="254" height="26.5" fill="url(#cTint)"/>
<g filter="url(#cBlur2)" opacity="0.9"><ellipse cx="487" cy="200" rx="3" ry="1.3" fill="#3048b8"/><ellipse cx="493" cy="206" rx="2.5" ry="1.2" fill="#3048b8"/><ellipse cx="498" cy="197" rx="2" ry="1" fill="#3048b8"/><ellipse cx="575" cy="205" rx="4" ry="2" fill="#3048b8" transform="rotate(-50 575 205)"/><ellipse cx="569" cy="211" rx="3" ry="1.5" fill="#e03020" transform="rotate(-50 569 211)"/><ellipse cx="552" cy="200" rx="3" ry="1.3" fill="#3048b8"/><ellipse cx="610" cy="198" rx="2.5" ry="1.2" fill="#3048b8"/><ellipse cx="530" cy="196" rx="2.5" ry="1.2" fill="#3048b8"/></g>
<rect x="390.5" y="189.5" width="254" height="26.5" fill="none" stroke="#f08a6a" stroke-width="1.2"/>
<rect x="479.8" y="191" width="27.2" height="23.4" fill="none" stroke="#606080" stroke-width="0.9"/>
<rect x="651.9" y="187" width="7.1" height="35.9" fill="url(#cJet)"/>
<text x="664.6" y="193.8" font-size="9.2" font-family='"Liberation Serif", serif' font-weight="bold" text-anchor="start" fill="#111" textLength="19.5" lengthAdjust="spacingAndGlyphs" >50 m</text>
<text x="661.7" y="224.7" font-size="9.2" font-family='"Liberation Serif", serif' font-weight="bold" text-anchor="start" fill="#111" textLength="22.5" lengthAdjust="spacingAndGlyphs" >-50 m</text>
<line x1="505.3" y1="219.2" x2="541.6" y2="243.6" stroke="#222" stroke-width="0.8"/><polygon points="544.6,245.6 539.7,244.8 542.0,241.4" fill="#222"/>
<rect x="548" y="233.3" width="119.7" height="109" filter="url(#cField2)"/>
<g clip-path="url(#cInClip)"><g filter="url(#cBlur)"><path d="M566,264 C569,258 576,258 579,262 C584,265 586,270 584,276 C582,281 577,283 573,280 C569,277 563,270 566,264Z" fill="#3448b8"/><ellipse cx="580" cy="244" rx="6" ry="3" fill="#3a52c0"/><ellipse cx="562" cy="252" rx="4" ry="2.5" fill="#3a52c0"/><ellipse cx="615" cy="285" rx="18" ry="3" fill="#3a52c0" transform="rotate(-8 615 285)"/><ellipse cx="605" cy="297" rx="8" ry="3" fill="#3a52c0"/><ellipse cx="645" cy="268" rx="8" ry="3" fill="#3a52c0"/><ellipse cx="650" cy="248" rx="7" ry="4" fill="#3a52c0"/><ellipse cx="638" cy="240" rx="5" ry="3" fill="#3a52c0"/><ellipse cx="565" cy="322" rx="14" ry="3.2" fill="#e84a26" transform="rotate(-53 565 322)"/><ellipse cx="558" cy="332" rx="6" ry="3" fill="#e02a20" transform="rotate(-53 558 332)"/><ellipse cx="600" cy="272" rx="9" ry="3" fill="#e84a26" transform="rotate(-40 600 272)"/><ellipse cx="626" cy="258" rx="6" ry="3" fill="#e84a26"/><ellipse cx="612" cy="262" rx="5" ry="2.5" fill="#e02a20"/></g></g>
<circle cx="576" cy="268" r="1.6" fill="#fff"/><circle cx="580" cy="276" r="1.3" fill="#fff"/>
<rect x="548" y="233.3" width="119.7" height="109" fill="none" stroke="#111" stroke-width="1.3"/>
<circle cx="575.1" cy="269.9" r="17" fill="none" stroke="#111" stroke-width="1.5"/>
<ellipse cx="589.8" cy="288.6" rx="61" ry="6.2" transform="rotate(-53.6 589.8 288.6)" fill="none" stroke="#fff" stroke-width="1.8"/>
<text x="349.6" y="230.2" font-size="21" font-family='"Liberation Serif", serif' font-weight="bold" text-anchor="start" fill="#000" >c</text>
<line x1="387.6" y1="229.3" x2="387.6" y2="430.7" stroke="#333" stroke-width="1"/><line x1="383.8" y1="229.8" x2="387.6" y2="229.8" stroke="#333" stroke-width="0.8"/><text x="381.2" y="232.6" font-size="10.1" font-family='"Liberation Sans", sans-serif' font-weight="normal" text-anchor="end" fill="#222" >20</text><line x1="385.4" y1="246.5" x2="387.6" y2="246.5" stroke="#333" stroke-width="0.8"/><line x1="383.8" y1="263.2" x2="387.6" y2="263.2" stroke="#333" stroke-width="0.8"/><text x="381.2" y="266.0" font-size="10.1" font-family='"Liberation Sans", sans-serif' font-weight="normal" text-anchor="end" fill="#222" >15</text><line x1="385.4" y1="279.9" x2="387.6" y2="279.9" stroke="#333" stroke-width="0.8"/><line x1="383.8" y1="296.6" x2="387.6" y2="296.6" stroke="#333" stroke-width="0.8"/><text x="381.2" y="299.4" font-size="10.1" font-family='"Liberation Sans", sans-serif' font-weight="normal" text-anchor="end" fill="#222" >10</text><line x1="385.4" y1="313.3" x2="387.6" y2="313.3" stroke="#333" stroke-width="0.8"/><line x1="383.8" y1="330.0" x2="387.6" y2="330.0" stroke="#333" stroke-width="0.8"/><text x="381.2" y="332.8" font-size="10.1" font-family='"Liberation Sans", sans-serif' font-weight="normal" text-anchor="end" fill="#222" >5</text><line x1="385.4" y1="346.7" x2="387.6" y2="346.7" stroke="#333" stroke-width="0.8"/><line x1="383.8" y1="363.4" x2="387.6" y2="363.4" stroke="#333" stroke-width="0.8"/><text x="381.2" y="366.2" font-size="10.1" font-family='"Liberation Sans", sans-serif' font-weight="normal" text-anchor="end" fill="#222" >0</text><line x1="385.4" y1="380.1" x2="387.6" y2="380.1" stroke="#333" stroke-width="0.8"/><line x1="383.8" y1="396.8" x2="387.6" y2="396.8" stroke="#333" stroke-width="0.8"/><text x="381.2" y="399.6" font-size="10.1" font-family='"Liberation Sans", sans-serif' font-weight="normal" text-anchor="end" fill="#222" >-5</text><line x1="385.4" y1="413.5" x2="387.6" y2="413.5" stroke="#333" stroke-width="0.8"/><line x1="383.8" y1="430.2" x2="387.6" y2="430.2" stroke="#333" stroke-width="0.8"/><text x="381.2" y="433.0" font-size="10.1" font-family='"Liberation Sans", sans-serif' font-weight="normal" text-anchor="end" fill="#222" >-10</text><line x1="387.1" y1="430.2" x2="656.8" y2="430.2" stroke="#333" stroke-width="1"/><line x1="387.6" y1="430.2" x2="387.6" y2="434.0" stroke="#333" stroke-width="0.8"/><text x="386.6" y="445.4" font-size="10.4" font-family='"Liberation Sans", sans-serif' font-weight="normal" text-anchor="middle" fill="#222" textLength="30.77" lengthAdjust="spacingAndGlyphs" >-40000</text><line x1="421.2" y1="430.2" x2="421.2" y2="432.4" stroke="#333" stroke-width="0.8"/><line x1="454.8" y1="430.2" x2="454.8" y2="434.0" stroke="#333" stroke-width="0.8"/><text x="453.8" y="445.4" font-size="10.4" font-family='"Liberation Sans", sans-serif' font-weight="normal" text-anchor="middle" fill="#222" textLength="30.77" lengthAdjust="spacingAndGlyphs" >-20000</text><line x1="488.4" y1="430.2" x2="488.4" y2="432.4" stroke="#333" stroke-width="0.8"/><line x1="522.0" y1="430.2" x2="522.0" y2="434.0" stroke="#333" stroke-width="0.8"/><text x="522.0" y="445.4" font-size="10.4" font-family='"Liberation Sans", sans-serif' font-weight="normal" text-anchor="middle" fill="#222" textLength="5.49" lengthAdjust="spacingAndGlyphs" >0</text><line x1="555.5" y1="430.2" x2="555.5" y2="432.4" stroke="#333" stroke-width="0.8"/><line x1="589.1" y1="430.2" x2="589.1" y2="434.0" stroke="#333" stroke-width="0.8"/><text x="589.1" y="445.4" font-size="10.4" font-family='"Liberation Sans", sans-serif' font-weight="normal" text-anchor="middle" fill="#222" textLength="27.47" lengthAdjust="spacingAndGlyphs" >20000</text><line x1="622.7" y1="430.2" x2="622.7" y2="432.4" stroke="#333" stroke-width="0.8"/><line x1="656.3" y1="430.2" x2="656.3" y2="434.0" stroke="#333" stroke-width="0.8"/><text x="656.3" y="445.4" font-size="10.4" font-family='"Liberation Sans", sans-serif' font-weight="normal" text-anchor="middle" fill="#222" textLength="27.47" lengthAdjust="spacingAndGlyphs" >40000</text>
<text x="522.0" y="463.8" font-size="11.3" font-family='"Liberation Sans", sans-serif' font-weight="normal" text-anchor="middle" fill="#111" textLength="110.5" lengthAdjust="spacingAndGlyphs" >Distance to trench (m)</text>
<text x="362.2" y="339.5" font-size="11.0" font-family='"Liberation Sans", sans-serif' font-weight="normal" text-anchor="middle" fill="#111" textLength="105" lengthAdjust="spacingAndGlyphs" transform="rotate(-90 362.2 339.5)" >Depth difference (m)</text>
<line x1="476.6" y1="229" x2="476.6" y2="430" stroke="#666" stroke-width="1" stroke-dasharray="4,2.5"/>
<text x="397.9" y="254.7" font-size="9.0" font-family='"Liberation Serif", serif' font-weight="bold" text-anchor="start" fill="#858290" textLength="74.4" lengthAdjust="spacingAndGlyphs" >Backstop interface</text>
<rect x="479.8" y="248.6" width="17.8" height="103.6" fill="none" stroke="#7a78a8" stroke-width="1"/>
<polyline points="390.4,312.7 392.5,296.5 394.4,293.8 395.7,305.6 397.0,293.5 398.3,283.8 399.6,299.1 401.0,312.2 402.3,317.6 403.6,321.4 405.7,293.8 407.0,285.2 408.3,278.1 410.0,285.0 412.3,301.7 414.0,290.0 416.2,278.1 418.0,276.0 420.1,287.3 421.5,284.0 422.8,280.7 424.1,288.6 426.2,282.8 427.8,289.5 429.3,296.5 431.0,300.0 433.3,308.3 435.0,315.0 437.2,318.8 438.5,317.3 439.8,314.8 441.5,320.0 443.0,328.0 445.1,308.3 447.0,310.0 449.0,305.6 450.4,303.0 451.7,308.5 453.0,312.2 455.1,301.7 456.6,303.1 458.2,307.0 460.3,297.0 462.2,301.7 463.5,310.0 464.8,321.4 467.4,328.0 468.8,329.7 470.1,329.3 472.7,308.3 474.5,320.0 476.6,335.9 478.0,340.9 479.3,346.4 481.1,337.2 483.2,328.0 484.5,351.6 486.6,255.7 488.4,330.6 489.8,309.6 491.1,324.0 492.4,317.5 493.7,320.9 495.0,322.7 496.3,327.0 497.6,334.5 499.0,325.8 500.3,317.5 502.6,313.0 504.0,330.0 505.5,339.8 506.9,328.0 508.2,314.8 509.2,315.8 510.5,319.5 511.8,325.0 513.1,318.5 514.5,309.2 517.0,331.5 518.4,321.6 519.7,309.2 521.0,315.8 523.1,370.9 525.0,376.2 526.3,373.4 527.6,373.6 529.7,392.0 531.5,378.8 532.9,381.2 534.2,386.7 536.8,376.2 538.1,380.3 539.4,384.1 540.7,380.3 542.0,373.6 543.4,375.8 544.7,378.8 547.3,372.3 548.6,374.5 549.9,378.2 551.2,381.5 552.5,382.6 553.9,386.7 555.6,374.0 557.3,363.0 558.6,375.3 559.9,388.0 561.5,378.1 563.1,368.3 564.4,374.0 565.7,381.5 568.3,373.6 570.4,406.4 571.7,382.5 573.0,360.4 574.9,357.8 576.2,360.2 577.5,364.4 578.8,367.5 580.1,370.9 581.5,368.9 582.8,368.3 584.1,367.2 585.4,370.2 586.7,369.6 589.3,359.1 590.6,355.3 592.0,351.2 593.3,356.3 594.6,360.4 596.5,360.7 598.5,363.0 599.9,361.3 601.2,356.5 603.2,362.3 605.1,365.7 607.0,361.8 609.0,360.4 610.3,362.1 611.7,365.5 613.0,367.0 615.0,365.7 616.9,363.0 618.2,367.0 619.5,368.3 620.8,365.4 622.2,364.1 623.5,360.4 624.8,359.0 626.1,356.5 627.4,359.1 628.7,363.0 630.0,360.0 631.4,356.5 632.7,363.6 634.0,368.3 635.3,370.7 636.6,370.9 638.0,364.4 639.3,357.8 640.6,365.3 641.9,372.3" fill="none" stroke="#e8383a" stroke-width="1.15" stroke-linejoin="round"/>
<line x1="389.9" y1="361.4" x2="475.9" y2="389.9" stroke="#4a68c0" stroke-width="1.3" stroke-dasharray="1.3,3"/>
<line x1="480.5" y1="389.5" x2="521.7" y2="367.7" stroke="#4a68c0" stroke-width="1.3" stroke-dasharray="1.3,3"/>
<line x1="392.2" y1="367.7" x2="466.4" y2="393.3" stroke="#4a68c0" stroke-width="0.9"/><polygon points="470.2,394.6 464.8,394.9 466.1,391.1" fill="#4a68c0"/>
<line x1="481.5" y1="394.6" x2="516.7" y2="377.7" stroke="#4a68c0" stroke-width="0.9"/><polygon points="520.3,376.0 516.7,380.0 514.9,376.4" fill="#4a68c0"/>
<text x="412.0" y="411.2" font-size="10.8" font-family='"Liberation Serif", serif' font-weight="bold" text-anchor="start" fill="#111" >zone</text>
<rect x="437.6" y="404.6" width="5.2" height="6.6" fill="none" stroke="#aaa" stroke-width="0.8"/>
<text x="490.5" y="413.1" font-size="10.8" font-family='"Liberation Serif", serif' font-weight="bold" text-anchor="start" fill="#111" >zone</text>
<rect x="515.6" y="406.6" width="5.2" height="6.6" fill="none" stroke="#aaa" stroke-width="0.8"/>
<text x="8.6" y="482.3" font-size="20.5" font-family='"Liberation Serif", serif' font-weight="bold" text-anchor="start" fill="#000" >d</text>
<ellipse cx="93.2" cy="517.0" rx="36.5" ry="17.5" transform="rotate(28 93.2 517.0)" fill="#9886c8" fill-opacity="0.33"/><ellipse cx="100.0" cy="522.5" rx="30" ry="15.5" transform="rotate(30 100.0 522.5)" fill="#9886c8" fill-opacity="0.33"/><ellipse cx="151.0" cy="530.2" rx="36" ry="15.5" transform="rotate(30 151.0 530.2)" fill="#9886c8" fill-opacity="0.33"/><ellipse cx="121.6" cy="547.5" rx="30" ry="12.5" transform="rotate(22 121.6 547.5)" fill="#9886c8" fill-opacity="0.33"/><ellipse cx="133.0" cy="548.0" rx="26" ry="11.5" transform="rotate(28 133.0 548.0)" fill="#9886c8" fill-opacity="0.33"/><ellipse cx="119.4" cy="570.9" rx="37.5" ry="18.2" transform="rotate(30 119.4 570.9)" fill="#9886c8" fill-opacity="0.33"/><ellipse cx="212.8" cy="626.0" rx="48.7" ry="25.2" transform="rotate(30 212.8 626.0)" fill="#9886c8" fill-opacity="0.33"/><ellipse cx="302.0" cy="523.8" rx="18" ry="9" transform="rotate(30 302.0 523.8)" fill="#7cc8a6" fill-opacity="0.3"/><ellipse cx="259.8" cy="547.0" rx="23.4" ry="12.3" transform="rotate(30 259.8 547.0)" fill="#7cc8a6" fill-opacity="0.3"/><ellipse cx="211.0" cy="553.5" rx="19" ry="9" transform="rotate(30 211.0 553.5)" fill="#7cc8a6" fill-opacity="0.3"/><ellipse cx="221.0" cy="563.5" rx="20" ry="8.5" transform="rotate(30 221.0 563.5)" fill="#7cc8a6" fill-opacity="0.3"/><ellipse cx="181.9" cy="568.3" rx="23.5" ry="8" transform="rotate(30 181.9 568.3)" fill="#7cc8a6" fill-opacity="0.3"/><ellipse cx="186.0" cy="585.0" rx="33" ry="10" transform="rotate(30 186.0 585.0)" fill="#7cc8a6" fill-opacity="0.3"/><ellipse cx="150.4" cy="582.8" rx="33.4" ry="18.8" transform="rotate(30 150.4 582.8)" fill="#7cc8a6" fill-opacity="0.3"/><ellipse cx="138.0" cy="566.0" rx="22" ry="11" transform="rotate(30 138.0 566.0)" fill="#7cc8a6" fill-opacity="0.3"/><ellipse cx="199.3" cy="623.2" rx="20.7" ry="10.7" transform="rotate(30 199.3 623.2)" fill="#7cc8a6" fill-opacity="0.3"/><circle cx="93.2" cy="517.8" r="3.1" fill="#4558b2"/><circle cx="113.8" cy="530.9" r="3.1" fill="#4558b2"/><circle cx="150" cy="531.6" r="3.1" fill="#4558b2"/><circle cx="157.2" cy="555.9" r="3.1" fill="#4558b2"/><circle cx="128.3" cy="550.5" r="3.1" fill="#8a88c8"/><circle cx="123.6" cy="559.4" r="3.1" fill="#4558b2"/><circle cx="119.8" cy="570.2" r="3.1" fill="#5a78b8"/><circle cx="213.2" cy="625.4" r="3.1" fill="#4558b2"/><circle cx="302" cy="524.7" r="3.1" fill="#5cba5c"/><circle cx="259.8" cy="547.7" r="3.1" fill="#5cba5c"/><circle cx="212.4" cy="555.7" r="3.1" fill="#5cba5c"/><circle cx="221" cy="564.9" r="3.1" fill="#5cba5c"/><circle cx="181.5" cy="569.9" r="3.1" fill="#5cba5c"/><circle cx="178" cy="581.1" r="3.1" fill="#5cba5c"/><circle cx="194.9" cy="587.6" r="3.1" fill="#5cba5c"/><circle cx="149.7" cy="582.8" r="3.1" fill="#5cba5c"/><circle cx="198.5" cy="622.6" r="3.1" fill="#5cba5c"/>
<line x1="55.2" y1="473" x2="55.2" y2="674.5" stroke="#333" stroke-width="1"/><line x1="53.0" y1="473.4" x2="55.2" y2="473.4" stroke="#333" stroke-width="0.8"/><line x1="51.4" y1="495.6" x2="55.2" y2="495.6" stroke="#333" stroke-width="0.8"/><text x="49.3" y="498.6" font-size="10.3" font-family='"Liberation Sans", sans-serif' font-weight="normal" text-anchor="end" fill="#222" >20</text><line x1="53.0" y1="517.9" x2="55.2" y2="517.9" stroke="#333" stroke-width="0.8"/><line x1="51.4" y1="540.1" x2="55.2" y2="540.1" stroke="#333" stroke-width="0.8"/><text x="49.3" y="543.1" font-size="10.3" font-family='"Liberation Sans", sans-serif' font-weight="normal" text-anchor="end" fill="#222" >0</text><line x1="53.0" y1="562.4" x2="55.2" y2="562.4" stroke="#333" stroke-width="0.8"/><line x1="51.4" y1="584.6" x2="55.2" y2="584.6" stroke="#333" stroke-width="0.8"/><text x="49.3" y="587.6" font-size="10.3" font-family='"Liberation Sans", sans-serif' font-weight="normal" text-anchor="end" fill="#222" >-20</text><line x1="53.0" y1="606.9" x2="55.2" y2="606.9" stroke="#333" stroke-width="0.8"/><line x1="51.4" y1="629.1" x2="55.2" y2="629.1" stroke="#333" stroke-width="0.8"/><text x="49.3" y="632.1" font-size="10.3" font-family='"Liberation Sans", sans-serif' font-weight="normal" text-anchor="end" fill="#222" >-40</text><line x1="53.0" y1="651.4" x2="55.2" y2="651.4" stroke="#333" stroke-width="0.8"/><line x1="51.4" y1="673.6" x2="55.2" y2="673.6" stroke="#333" stroke-width="0.8"/><text x="49.3" y="676.6" font-size="10.3" font-family='"Liberation Sans", sans-serif' font-weight="normal" text-anchor="end" fill="#222" >-60</text><line x1="54.7" y1="674.0" x2="325.6" y2="674.0" stroke="#333" stroke-width="1"/><line x1="56.0" y1="674.0" x2="56.0" y2="676.2" stroke="#333" stroke-width="0.8"/><line x1="85.9" y1="674.0" x2="85.9" y2="677.8" stroke="#333" stroke-width="0.8"/><text x="84.9" y="688.7" font-size="10.6" font-family='"Liberation Sans", sans-serif' font-weight="normal" text-anchor="middle" fill="#222" textLength="14.71" lengthAdjust="spacingAndGlyphs" >-20</text><line x1="115.9" y1="674.0" x2="115.9" y2="676.2" stroke="#333" stroke-width="0.8"/><line x1="145.8" y1="674.0" x2="145.8" y2="677.8" stroke="#333" stroke-width="0.8"/><text x="145.8" y="688.7" font-size="10.6" font-family='"Liberation Sans", sans-serif' font-weight="normal" text-anchor="middle" fill="#222" textLength="5.66" lengthAdjust="spacingAndGlyphs" >0</text><line x1="175.8" y1="674.0" x2="175.8" y2="676.2" stroke="#333" stroke-width="0.8"/><line x1="205.7" y1="674.0" x2="205.7" y2="677.8" stroke="#333" stroke-width="0.8"/><text x="205.7" y="688.7" font-size="10.6" font-family='"Liberation Sans", sans-serif' font-weight="normal" text-anchor="middle" fill="#222" textLength="11.32" lengthAdjust="spacingAndGlyphs" >20</text><line x1="235.7" y1="674.0" x2="235.7" y2="676.2" stroke="#333" stroke-width="0.8"/><line x1="265.6" y1="674.0" x2="265.6" y2="677.8" stroke="#333" stroke-width="0.8"/><text x="265.6" y="688.7" font-size="10.6" font-family='"Liberation Sans", sans-serif' font-weight="normal" text-anchor="middle" fill="#222" textLength="11.32" lengthAdjust="spacingAndGlyphs" >40</text><line x1="295.6" y1="674.0" x2="295.6" y2="676.2" stroke="#333" stroke-width="0.8"/><line x1="325.5" y1="674.0" x2="325.5" y2="677.8" stroke="#333" stroke-width="0.8"/><text x="325.5" y="688.7" font-size="10.6" font-family='"Liberation Sans", sans-serif' font-weight="normal" text-anchor="middle" fill="#222" textLength="11.32" lengthAdjust="spacingAndGlyphs" >60</text>
<text x="190.4" y="708.1" font-size="12.3" font-family='"Liberation Sans", sans-serif' font-weight="normal" text-anchor="middle" fill="#111" textLength="46" lengthAdjust="spacingAndGlyphs" >East (m)</text>
<text x="25.8" y="582.0" font-size="12.2" font-family='"Liberation Sans", sans-serif' font-weight="normal" text-anchor="middle" fill="#111" textLength="51" lengthAdjust="spacingAndGlyphs" transform="rotate(-90 25.8 582.0)" >North (m)</text>
<ellipse cx="292.7" cy="643.0" rx="29.8" ry="10.4" transform="rotate(33 292.7 643.0)" fill="none" stroke="#111" stroke-width="1.1"/>
<rect x="261.2" y="630.5" width="63" height="25" transform="rotate(32.5 292.7 643.0)" fill="none" stroke="#111" stroke-width="0.9" stroke-dasharray="2.6,1.8"/>
<line x1="292.0" y1="623.0" x2="281.0" y2="616.5" stroke="#111" stroke-width="0.9"/><polygon points="277.6,614.5 283.0,615.1 280.8,618.9" fill="#111"/>
<line x1="313.1" y1="638.1" x2="323.1" y2="644.6" stroke="#111" stroke-width="0.9"/><polygon points="326.4,646.8 321.0,645.9 323.4,642.2" fill="#111"/>
<line x1="266.5" y1="624.5" x2="270.7" y2="617.7" stroke="#111" stroke-width="0.7"/><polygon points="271.9,615.6 271.6,618.9 269.1,617.4" fill="#111"/>
<line x1="264.0" y1="626.5" x2="260.3" y2="632.0" stroke="#111" stroke-width="0.7"/><polygon points="259.0,634.0 259.4,630.7 261.9,632.3" fill="#111"/>
<text x="304.5" y="632.0" font-size="12.5" font-family='"Liberation Serif", serif' font-weight="bold" text-anchor="middle" fill="#111" textLength="20" lengthAdjust="spacingAndGlyphs" transform="rotate(32.5 304.5 632.0)" >21m</text>
<text x="264.2" y="622.5" font-size="11.5" font-family='"Liberation Serif", serif' font-weight="bold" text-anchor="middle" fill="#111" textLength="13" lengthAdjust="spacingAndGlyphs" transform="rotate(-57.5 264.2 622.5)" >9m</text>
<text x="351.2" y="477.1" font-size="21" font-family='"Liberation Serif", serif' font-weight="bold" text-anchor="start" fill="#000" >e</text>
<polygon points="387.5,644.1 397.2,644.1 411.3,622.9 425.1,633.9 439.5,644.1 454.0,624.9 468.5,633.9 482.9,625.8 484.7,625.7 497.5,623.8 512.7,586.4 526.3,527.6 541.2,574.3 555.2,582.2 569.9,637.8 583.9,547.9 598.0,578.3 610.8,577.1 637.2,577.6 637.2,676.3 387.5,676.3" fill="#e0e1e3"/>
<line x1="387.5" y1="489.7" x2="387.5" y2="676.8" stroke="#333" stroke-width="1"/><line x1="383.7" y1="490.2" x2="387.5" y2="490.2" stroke="#333" stroke-width="0.8"/><text x="381.3" y="493.1" font-size="9.9" font-family='"Liberation Sans", sans-serif' font-weight="normal" text-anchor="end" fill="#222" >60</text><line x1="385.3" y1="513.5" x2="387.5" y2="513.5" stroke="#333" stroke-width="0.8"/><line x1="383.7" y1="536.7" x2="387.5" y2="536.7" stroke="#333" stroke-width="0.8"/><text x="381.3" y="539.6" font-size="9.9" font-family='"Liberation Sans", sans-serif' font-weight="normal" text-anchor="end" fill="#222" >40</text><line x1="385.3" y1="560.0" x2="387.5" y2="560.0" stroke="#333" stroke-width="0.8"/><line x1="383.7" y1="583.2" x2="387.5" y2="583.2" stroke="#333" stroke-width="0.8"/><text x="381.3" y="586.1" font-size="9.9" font-family='"Liberation Sans", sans-serif' font-weight="normal" text-anchor="end" fill="#222" >20</text><line x1="385.3" y1="606.5" x2="387.5" y2="606.5" stroke="#333" stroke-width="0.8"/><line x1="383.7" y1="629.8" x2="387.5" y2="629.8" stroke="#333" stroke-width="0.8"/><text x="381.3" y="632.7" font-size="9.9" font-family='"Liberation Sans", sans-serif' font-weight="normal" text-anchor="end" fill="#222" >0</text><line x1="385.3" y1="653.0" x2="387.5" y2="653.0" stroke="#333" stroke-width="0.8"/><line x1="383.7" y1="676.3" x2="387.5" y2="676.3" stroke="#333" stroke-width="0.8"/><text x="381.3" y="679.2" font-size="9.9" font-family='"Liberation Sans", sans-serif' font-weight="normal" text-anchor="end" fill="#222" >-20</text><line x1="387.0" y1="676.3" x2="637.7" y2="676.3" stroke="#333" stroke-width="1"/><line x1="387.5" y1="676.3" x2="387.5" y2="680.0999999999999" stroke="#333" stroke-width="0.8"/><text x="386.6" y="690.5" font-size="9.6" font-family='"Liberation Sans", sans-serif' font-weight="normal" text-anchor="middle" fill="#222" textLength="29.0" lengthAdjust="spacingAndGlyphs" >-40000</text><line x1="418.7" y1="676.3" x2="418.7" y2="678.5" stroke="#333" stroke-width="0.8"/><line x1="449.9" y1="676.3" x2="449.9" y2="680.0999999999999" stroke="#333" stroke-width="0.8"/><text x="449.0" y="690.5" font-size="9.6" font-family='"Liberation Sans", sans-serif' font-weight="normal" text-anchor="middle" fill="#222" textLength="29.0" lengthAdjust="spacingAndGlyphs" >-20000</text><line x1="481.1" y1="676.3" x2="481.1" y2="678.5" stroke="#333" stroke-width="0.8"/><line x1="512.4" y1="676.3" x2="512.4" y2="680.0999999999999" stroke="#333" stroke-width="0.8"/><text x="512.4" y="690.5" font-size="9.6" font-family='"Liberation Sans", sans-serif' font-weight="normal" text-anchor="middle" fill="#222" textLength="5.18" lengthAdjust="spacingAndGlyphs" >0</text><line x1="543.6" y1="676.3" x2="543.6" y2="678.5" stroke="#333" stroke-width="0.8"/><line x1="574.8" y1="676.3" x2="574.8" y2="680.0999999999999" stroke="#333" stroke-width="0.8"/><text x="574.8" y="690.5" font-size="9.6" font-family='"Liberation Sans", sans-serif' font-weight="normal" text-anchor="middle" fill="#222" textLength="25.9" lengthAdjust="spacingAndGlyphs" >20000</text><line x1="606.0" y1="676.3" x2="606.0" y2="678.5" stroke="#333" stroke-width="0.8"/><line x1="637.2" y1="676.3" x2="637.2" y2="680.0999999999999" stroke="#333" stroke-width="0.8"/><text x="637.2" y="690.5" font-size="9.6" font-family='"Liberation Sans", sans-serif' font-weight="normal" text-anchor="middle" fill="#222" textLength="25.9" lengthAdjust="spacingAndGlyphs" >40000</text><line x1="637.2" y1="489.7" x2="637.2" y2="676.8" stroke="#8a8a8a" stroke-width="1"/><line x1="637.2" y1="490.2" x2="641.0" y2="490.2" stroke="#8a8a8a" stroke-width="0.8"/><text x="643.0" y="492.9" font-size="9.7" font-family='"Liberation Sans", sans-serif' font-weight="normal" text-anchor="start" fill="#7a7a7a" >30</text><line x1="637.2" y1="508.8" x2="639.4" y2="508.8" stroke="#8a8a8a" stroke-width="0.8"/><line x1="637.2" y1="527.4" x2="641.0" y2="527.4" stroke="#8a8a8a" stroke-width="0.8"/><text x="643.0" y="530.1" font-size="9.7" font-family='"Liberation Sans", sans-serif' font-weight="normal" text-anchor="start" fill="#7a7a7a" >25</text><line x1="637.2" y1="546.0" x2="639.4" y2="546.0" stroke="#8a8a8a" stroke-width="0.8"/><line x1="637.2" y1="564.6" x2="641.0" y2="564.6" stroke="#8a8a8a" stroke-width="0.8"/><text x="643.0" y="567.3" font-size="9.7" font-family='"Liberation Sans", sans-serif' font-weight="normal" text-anchor="start" fill="#7a7a7a" >20</text><line x1="637.2" y1="583.2" x2="639.4" y2="583.2" stroke="#8a8a8a" stroke-width="0.8"/><line x1="637.2" y1="601.9" x2="641.0" y2="601.9" stroke="#8a8a8a" stroke-width="0.8"/><text x="643.0" y="604.6" font-size="9.7" font-family='"Liberation Sans", sans-serif' font-weight="normal" text-anchor="start" fill="#7a7a7a" >15</text><line x1="637.2" y1="620.5" x2="639.4" y2="620.5" stroke="#8a8a8a" stroke-width="0.8"/><line x1="637.2" y1="639.1" x2="641.0" y2="639.1" stroke="#8a8a8a" stroke-width="0.8"/><text x="643.0" y="641.8" font-size="9.7" font-family='"Liberation Sans", sans-serif' font-weight="normal" text-anchor="start" fill="#7a7a7a" >10</text><line x1="637.2" y1="657.7" x2="639.4" y2="657.7" stroke="#8a8a8a" stroke-width="0.8"/><line x1="637.2" y1="676.3" x2="641.0" y2="676.3" stroke="#8a8a8a" stroke-width="0.8"/><text x="643.0" y="679.0" font-size="9.7" font-family='"Liberation Sans", sans-serif' font-weight="normal" text-anchor="start" fill="#7a7a7a" >5</text>
<text x="512.7" y="707.5" font-size="10.6" font-family='"Liberation Sans", sans-serif' font-weight="normal" text-anchor="middle" fill="#111" textLength="103.5" lengthAdjust="spacingAndGlyphs" >Distance to trench (m)</text>
<text x="364.9" y="579.3" font-size="10.8" font-family='"Liberation Sans", sans-serif' font-weight="normal" text-anchor="middle" fill="#111" textLength="129.8" lengthAdjust="spacingAndGlyphs" transform="rotate(-90 364.9 579.3)" >Horizontal displacement (m)</text>
<text x="661.0" y="583.7" font-size="11.5" font-family='"Liberation Sans", sans-serif' font-weight="normal" text-anchor="middle" fill="#222" textLength="66" lengthAdjust="spacingAndGlyphs" transform="rotate(90 661.0 583.7)" >Error STD (m)</text>
<line x1="469.5" y1="490" x2="469.5" y2="676" stroke="#777" stroke-width="1" stroke-dasharray="4,2.5"/>
<text x="479.5" y="506.5" font-size="9.8" font-family='"Liberation Serif", serif' font-weight="bold" text-anchor="start" fill="#6a6a74" textLength="113.3" lengthAdjust="spacingAndGlyphs" >Backstop interface outcrop</text>
<line x1="544.9" y1="515.2" x2="480.2" y2="515.2" stroke="#777" stroke-width="0.9"/><polygon points="476.2,515.2 481.2,513.2 481.2,517.2" fill="#777"/>
<polyline points="396.8,527.0 411.5,539.3 425.7,589.3 440.1,595.3 454.6,603.2 469.0,574.3 483.0,596.3 497.5,600.2 512.0,602.2 526.4,547.0 540.7,621.0 555.2,624.6 569.8,624.6 583.8,641.4 598.5,648.0 612.7,656.1 627.2,630.4" fill="none" stroke="#ec8a8a" stroke-width="1" stroke-dasharray="4,3"/>
<circle cx="396.8" cy="527" r="3.3" fill="#ec8686"/><circle cx="411.5" cy="539.3" r="3.3" fill="#ec8686"/><circle cx="425.7" cy="589.3" r="3.3" fill="#ec8686"/><circle cx="440.1" cy="595.3" r="3.3" fill="#ec8686"/><circle cx="454.6" cy="603.2" r="3.3" fill="#ec8686"/><circle cx="469" cy="574.3" r="3.3" fill="#ec8686"/><circle cx="483" cy="596.3" r="3.3" fill="#ec8686"/><circle cx="497.5" cy="600.2" r="3.3" fill="#ec8686"/><circle cx="512" cy="602.2" r="3.3" fill="#ec8686"/><circle cx="526.4" cy="547" r="3.3" fill="#ec8686"/><circle cx="540.7" cy="621" r="3.3" fill="#ec8686"/><circle cx="555.2" cy="624.6" r="3.3" fill="#ec8686"/><circle cx="569.8" cy="624.6" r="3.3" fill="#ec8686"/><circle cx="583.8" cy="641.4" r="3.3" fill="#ec8686"/><circle cx="598.5" cy="648" r="3.3" fill="#ec8686"/><circle cx="612.7" cy="656.1" r="3.3" fill="#ec8686"/><circle cx="627.2" cy="630.4" r="3.3" fill="#ec8686"/>
<polyline points="396.8,514.7 411.5,541.5 425.7,573.8 440.1,575.3 454.6,595.3 469.0,566.9 483.0,581.1 497.5,595.4 512.0,616.4 526.4,542.4 540.7,642.0 555.2,641.8 569.8,640.3 583.8,656.0 598.5,628.1 612.7,674.2 627.2,617.0" fill="none" stroke="#111" stroke-width="1.1"/>
<circle cx="396.8" cy="514.7" r="3.5" fill="#0c0c0c"/><circle cx="411.5" cy="541.5" r="3.5" fill="#0c0c0c"/><circle cx="425.7" cy="573.8" r="3.5" fill="#0c0c0c"/><circle cx="440.1" cy="575.3" r="3.5" fill="#0c0c0c"/><circle cx="454.6" cy="595.3" r="3.5" fill="#0c0c0c"/><circle cx="469" cy="566.9" r="3.5" fill="#0c0c0c"/><circle cx="483" cy="581.1" r="3.5" fill="#0c0c0c"/><circle cx="497.5" cy="595.4" r="3.5" fill="#0c0c0c"/><circle cx="512" cy="616.4" r="3.5" fill="#0c0c0c"/><circle cx="526.4" cy="542.4" r="3.5" fill="#0c0c0c"/><circle cx="540.7" cy="642" r="3.5" fill="#0c0c0c"/><circle cx="555.2" cy="641.8" r="3.5" fill="#0c0c0c"/><circle cx="569.8" cy="640.3" r="3.5" fill="#0c0c0c"/><circle cx="583.8" cy="656" r="3.5" fill="#0c0c0c"/><circle cx="598.5" cy="628.1" r="3.5" fill="#0c0c0c"/><circle cx="612.7" cy="674.2" r="3.5" fill="#0c0c0c"/><circle cx="627.2" cy="617" r="3.5" fill="#0c0c0c"/>
<defs><linearGradient id="fSed" gradientUnits="userSpaceOnUse" x1="65" y1="0" x2="671" y2="0"><stop offset="0" stop-color="#e8924a"/><stop offset="0.2" stop-color="#ea9a60"/><stop offset="0.33" stop-color="#eca482"/><stop offset="0.45" stop-color="#eea8a0"/><stop offset="0.6" stop-color="#f0b0b4"/><stop offset="0.8" stop-color="#f4c6ca"/><stop offset="1" stop-color="#f9e2e4"/></linearGradient><linearGradient id="fLeg" x1="0" y1="0" x2="1" y2="0"><stop offset="0" stop-color="#e8904a"/><stop offset="0.4" stop-color="#eba090"/><stop offset="0.7" stop-color="#f0b4c0"/><stop offset="1" stop-color="#f8dce2"/></linearGradient></defs>
<rect x="64.9" y="727.5" width="606.3000000000001" height="356.20000000000005" fill="#64bfd3"/>
<polygon points="65.0,845.7 71.7,845.7 76.0,844.0 83.4,847.7 95.0,851.5 103.8,853.6 111.1,858.0 118.4,859.4 138.8,861.8 162.2,864.4 182.6,867.3 203.1,871.1 223.5,876.9 241.0,882.8 252.7,884.8 260.0,885.7 273.8,887.6 281.1,887.0 291.3,883.2 300.1,882.6 311.8,885.3 323.4,889.1 341.0,893.4 358.5,899.3 376.0,902.8 393.5,904.5 405.2,907.4 416.9,910.4 429.1,913.6 435.4,919.8 441.6,921.1 454.1,919.8 462.4,921.9 470.7,929.0 483.2,930.2 499.8,927.3 508.2,924.8 516.5,926.1 533.1,929.0 545.5,930.5 558.0,932.4 566.3,938.0 573.2,941.6 587.1,943.5 610.7,944.4 617.6,936.6 625.9,932.4 639.8,930.5 671.2,930.5 671.2,955.4 642.8,956.3 616.5,957.2 610.0,965.0 607.8,971.6 594.6,972.9 574.9,974.7 561.8,973.8 558.7,967.2 555.2,958.5 544.3,959.8 524.5,962.9 511.4,965.0 509.2,969.4 504.8,977.3 485.1,981.7 472.0,984.8 469.8,986.1 464.2,982.8 454.5,982.6 436.2,985.2 423.8,985.2 415.2,986.3 406.4,988.0 404.7,996.8 401.9,996.5 387.2,998.5 373.1,1001.3 360.9,1004.8 355.6,998.5 348.6,993.3 334.6,989.8 320.6,991.5 310.1,995.0 306.6,1000.3 285.5,1002.0 276.8,1003.8 275.0,1012.6 268.0,1023.1 261.0,1028.3 250.5,1031.8 244.0,1034.5 239.6,1038.2 235.2,1037.4 234.3,1028.6 229.3,1027.2 214.7,1027.7 200.1,1028.6 185.5,1031.5 179.7,1037.4 175.3,1051.1 159.3,1052.8 149.0,1053.4 146.1,1047.6 143.2,1045.3 124.2,1047.0 111.1,1047.6 106.7,1052.8 95.0,1054.9 77.5,1054.0 65.0,1052.8" fill="url(#fSed)"/>
<polygon points="65.0,1052.8 77.5,1054.0 95.0,1054.9 106.7,1052.8 111.1,1047.6 124.2,1047.0 143.2,1045.3 146.1,1047.6 149.0,1053.4 159.3,1052.8 175.3,1051.1 179.7,1037.4 185.5,1031.5 200.1,1028.6 214.7,1027.7 229.3,1027.2 234.3,1028.6 235.2,1037.4 239.6,1038.2 244.0,1034.5 250.5,1031.8 261.0,1028.3 268.0,1023.1 275.0,1012.6 276.8,1003.8 285.5,1002.0 306.6,1000.3 310.1,995.0 320.6,991.5 334.6,989.8 348.6,993.3 355.6,998.5 360.9,1004.8 373.1,1001.3 387.2,998.5 401.9,996.5 404.7,996.8 406.4,988.0 415.2,986.3 423.8,985.2 436.2,985.2 454.5,982.6 464.2,982.8 469.8,986.1 472.0,984.8 485.1,981.7 504.8,977.3 509.2,969.4 511.4,965.0 524.5,962.9 544.3,959.8 555.2,958.5 558.7,967.2 561.8,973.8 574.9,974.7 594.6,972.9 607.8,971.6 610.0,965.0 616.5,957.2 642.8,956.3 671.2,955.4 671.2,1083.7 64.9,1083.7" fill="#88888c"/>
<line x1="406" y1="728" x2="406" y2="906" stroke="#4a98b4" stroke-width="0.8" stroke-dasharray="4,3"/>
<path d="M65.0,845.7 C66.1,845.7 69.9,846.0 71.7,845.7 C73.5,845.4 74.0,843.7 76.0,844.0 C78.0,844.3 80.2,846.5 83.4,847.7 C86.6,849.0 91.6,850.5 95.0,851.5 C98.4,852.5 101.1,852.5 103.8,853.6 C106.5,854.7 108.7,857.0 111.1,858.0 C113.5,859.0 113.8,858.8 118.4,859.4 C123.0,860.0 131.5,861.0 138.8,861.8 C146.1,862.6 154.9,863.5 162.2,864.4 C169.5,865.3 175.8,866.2 182.6,867.3 C189.4,868.4 196.3,869.5 203.1,871.1 C209.9,872.7 217.2,875.0 223.5,876.9 C229.8,878.8 236.1,881.5 241.0,882.8 C245.9,884.1 249.5,884.3 252.7,884.8 C255.9,885.3 256.5,885.2 260.0,885.7 C263.5,886.2 270.3,887.4 273.8,887.6 C277.3,887.8 278.2,887.7 281.1,887.0 C284.0,886.3 288.1,883.9 291.3,883.2 C294.5,882.5 296.7,882.2 300.1,882.6 C303.5,883.0 307.9,884.2 311.8,885.3 C315.7,886.4 318.5,887.8 323.4,889.1 C328.3,890.5 335.1,891.7 341.0,893.4 C346.9,895.1 352.7,897.7 358.5,899.3 C364.3,900.9 370.2,901.9 376.0,902.8 C381.8,903.7 388.6,903.7 393.5,904.5 C398.4,905.3 401.3,906.4 405.2,907.4 C409.1,908.4 412.9,909.4 416.9,910.4 C420.9,911.4 426.0,912.0 429.1,913.6 C432.2,915.2 433.3,918.5 435.4,919.8 C437.5,921.0 438.5,921.1 441.6,921.1 C444.7,921.1 450.6,919.7 454.1,919.8 C457.6,919.9 459.6,920.4 462.4,921.9 C465.2,923.4 467.2,927.6 470.7,929.0 C474.2,930.4 478.3,930.5 483.2,930.2 C488.1,929.9 495.6,928.2 499.8,927.3 C504.0,926.4 505.4,925.0 508.2,924.8 C511.0,924.6 512.4,925.4 516.5,926.1 C520.6,926.8 528.3,928.3 533.1,929.0 C537.9,929.7 541.4,929.9 545.5,930.5 C549.6,931.1 554.5,931.1 558.0,932.4 C561.5,933.6 563.8,936.5 566.3,938.0 C568.8,939.5 569.7,940.7 573.2,941.6 C576.7,942.5 580.9,943.0 587.1,943.5 C593.4,944.0 605.6,945.5 610.7,944.4 C615.8,943.2 615.1,938.6 617.6,936.6 C620.1,934.6 622.2,933.4 625.9,932.4 C629.6,931.4 632.2,930.8 639.8,930.5 C647.3,930.2 666.0,930.5 671.2,930.5" fill="none" stroke="#111" stroke-width="1.4"/>
<path d="M65.0,863.2 C67.1,863.6 72.7,863.7 77.5,865.3 C82.3,866.9 90.9,871.4 93.6,872.6" fill="none" stroke="#111" stroke-width="1.05"/>
<path d="M65.0,871.1 C67.1,871.2 73.5,870.8 77.5,872.0 C81.5,873.2 85.3,876.0 89.2,878.4 C93.1,880.8 96.0,885.0 100.9,886.6 C105.8,888.2 110.6,887.9 118.4,887.7 C126.2,887.6 137.9,885.7 147.6,885.7 C157.3,885.7 169.2,886.7 176.8,887.7 C184.4,888.7 188.1,890.6 193.1,891.9 C198.1,893.2 204.8,894.8 207.1,895.4" fill="none" stroke="#111" stroke-width="1.05"/>
<path d="M213.9,907.7 C215.6,908.2 220.3,909.1 223.8,910.5 C227.3,911.9 231.0,914.7 234.7,916.0 C238.3,917.3 241.9,918.2 245.7,918.2 C249.5,918.2 254.1,917.2 257.5,916.1 C260.9,915.0 263.1,912.9 266.3,911.7 C269.5,910.5 272.9,909.7 276.5,909.1 C280.1,908.5 284.1,908.2 288.2,908.0 C292.3,907.8 297.4,907.7 301.3,908.0 C305.2,908.3 308.2,909.0 311.5,909.9 C314.8,910.8 319.4,912.8 321.0,913.4" fill="none" stroke="#111" stroke-width="1.05"/>
<path d="M90.5,984.4 C93.5,984.0 102.6,983.5 108.2,982.1 C113.8,980.8 118.3,979.0 124.2,976.3 C130.1,973.6 137.1,968.5 143.5,966.1 C149.9,963.7 155.3,962.6 162.8,961.9 C170.3,961.2 181.2,961.4 188.5,961.9 C195.8,962.4 200.8,964.0 206.3,964.6 C211.8,965.2 216.9,965.8 221.6,965.2 C226.3,964.6 231.6,961.8 234.7,960.9 C237.8,960.0 238.2,960.8 240.0,959.9 C241.8,959.0 244.1,957.5 245.8,955.5 C247.5,953.5 248.5,950.9 250.2,948.2 C251.9,945.5 253.7,941.8 256.1,939.4 C258.5,937.0 261.4,935.0 264.8,933.6 C268.2,932.2 272.1,931.3 276.5,930.7 C280.9,930.1 286.2,929.9 291.1,929.9 C296.0,929.9 301.4,930.3 305.7,930.7 C309.9,931.1 314.8,932.1 316.6,932.4" fill="none" stroke="#111" stroke-width="1.05"/>
<path d="M221.6,965.9 L247.4,974.7" fill="none" stroke="#111" stroke-width="1.05"/>
<path d="M100.1,1009.1 C103.0,1007.4 111.6,1002.6 117.8,998.8 C124.0,994.9 130.7,989.5 137.1,986.0 C143.5,982.5 149.9,979.8 156.3,977.9 C162.7,976.0 169.5,975.5 175.6,974.7 C181.7,973.9 187.2,972.6 193.1,972.9 C198.9,973.1 204.5,974.8 210.7,976.2 C216.9,977.6 227.1,980.4 230.4,981.2" fill="none" stroke="#111" stroke-width="1.05"/>
<path d="M124.2,1011.7 C127.4,1009.6 136.5,1002.3 143.5,998.8 C150.5,995.3 158.5,992.7 166.0,990.8 C173.5,988.9 182.5,988.2 188.5,987.6 C194.5,987.0 196.0,987.0 201.9,987.1 C207.8,987.2 218.0,987.5 223.8,988.2 C229.6,988.9 234.7,991.0 236.9,991.5" fill="none" stroke="#111" stroke-width="1.05"/>
<path d="M315.9,981.8 C317.8,981.2 323.4,980.0 327.6,978.1 C331.8,976.2 336.4,973.6 341.0,970.6 C345.6,967.6 350.9,963.6 355.0,960.1 C359.1,956.6 362.0,953.1 365.5,949.6 C369.0,946.1 372.5,942.5 376.0,939.0 C379.5,935.5 383.1,931.1 386.6,928.5 C390.1,925.9 393.0,924.8 397.1,923.3 C401.2,921.8 408.8,920.4 411.1,919.8" fill="none" stroke="#111" stroke-width="1.05"/>
<path d="M386.6,971.3 C388.1,970.3 393.0,967.8 395.3,965.3 C397.6,962.8 398.0,959.8 400.6,956.6 C403.2,953.4 407.0,949.6 411.1,946.1 C415.2,942.6 420.4,938.3 425.1,935.5 C429.8,932.7 435.5,930.7 439.1,929.2 C442.7,927.8 445.5,927.2 446.8,926.8" fill="none" stroke="#111" stroke-width="1.05"/>
<path d="M439.1,976.9 C440.9,974.7 446.1,968.1 449.6,963.6 C453.1,959.1 456.1,953.7 460.2,949.6 C464.3,945.5 470.1,941.6 474.2,939.1 C478.3,936.6 482.9,935.5 484.7,934.8" fill="none" stroke="#111" stroke-width="1.05"/>
<path d="M83.1,943.6 C87.3,942.4 98.7,939.0 108.2,936.2 C117.7,933.4 129.6,929.6 140.3,926.6 C151.0,923.6 162.9,921.4 172.4,918.5 C181.9,915.6 190.8,912.0 197.5,909.4 C204.2,906.8 208.4,905.0 212.8,902.8 C217.2,900.6 218.6,898.5 223.8,896.3 C229.0,894.0 240.6,890.5 243.9,889.3" fill="none" stroke="#111" stroke-width="1.8"/>
<path d="M65.0,1036.7 C69.0,1036.1 80.3,1034.6 89.2,1033.2 C98.1,1031.8 108.7,1030.0 118.4,1028.5 C128.1,1027.0 137.9,1025.8 147.6,1024.5 C157.3,1023.2 167.1,1022.0 176.8,1020.7 C186.5,1019.4 198.2,1018.0 206.0,1016.9 C213.8,1015.8 218.2,1015.0 223.5,1013.9 C228.8,1012.8 234.2,1011.8 238.1,1010.4 C242.0,1009.0 244.4,1007.2 247.0,1005.5 C249.6,1003.8 251.4,1002.5 253.9,1000.0 C256.4,997.5 259.3,993.5 261.9,990.5 C264.4,987.5 266.5,985.0 269.2,981.8 C271.9,978.6 275.3,974.7 278.0,971.5 C280.7,968.3 282.9,965.6 285.3,962.8 C287.7,960.0 290.2,957.4 292.6,954.7 C295.0,952.0 297.5,949.4 299.9,946.7 C302.3,944.0 304.8,941.2 307.2,938.7 C309.6,936.2 312.1,933.6 314.5,931.4 C316.9,929.2 319.1,927.3 321.8,925.5 C324.5,923.7 327.5,921.9 330.5,920.4 C333.5,918.9 336.4,918.3 340.0,916.8 C343.6,915.3 347.8,912.8 352.0,911.5 C356.2,910.2 360.3,909.6 365.1,908.9 C369.9,908.2 375.6,907.4 380.9,907.1 C386.1,906.8 392.8,906.8 396.6,907.1 C400.5,907.4 402.8,908.6 404.0,908.9" fill="none" stroke="#111" stroke-width="1.9"/>
<path d="M247.0,1005.5 C248.5,1004.9 253.0,1002.9 256.0,1002.0 C259.0,1001.1 261.4,1001.2 264.8,1000.0 C268.2,998.8 272.1,996.4 276.5,994.5 C280.9,992.6 286.2,990.4 291.1,988.5 C296.0,986.6 301.6,984.3 305.7,983.2 C309.8,982.1 312.7,982.1 315.9,981.8 C319.1,981.5 321.1,981.9 324.7,981.5 C328.3,981.1 332.4,980.0 337.5,979.4 C342.6,978.8 349.1,977.9 355.0,977.6 C360.9,977.3 366.8,977.1 372.6,977.6 C378.5,978.1 384.3,979.7 390.1,980.4 C395.9,981.1 401.8,981.8 407.6,981.8 C413.4,981.8 419.3,981.2 425.1,980.4 C430.9,979.6 436.8,978.2 442.6,976.9 C448.5,975.5 454.4,973.8 460.2,972.3 C466.0,970.8 471.9,969.2 477.7,967.8 C483.5,966.3 488.8,965.2 495.2,963.6 C501.6,962.0 509.2,960.0 516.2,958.3 C523.2,956.5 531.7,954.4 537.2,953.1 C542.8,951.8 547.5,950.8 549.5,950.3" fill="none" stroke="#111" stroke-width="1.5"/>
<polyline points="65.0,1052.8 77.5,1054.0 95.0,1054.9 106.7,1052.8 111.1,1047.6 124.2,1047.0 143.2,1045.3 146.1,1047.6 149.0,1053.4 159.3,1052.8 175.3,1051.1 179.7,1037.4 185.5,1031.5 200.1,1028.6 214.7,1027.7 229.3,1027.2 234.3,1028.6 235.2,1037.4 239.6,1038.2 244.0,1034.5 250.5,1031.8 261.0,1028.3 268.0,1023.1 275.0,1012.6 276.8,1003.8 285.5,1002.0 306.6,1000.3 310.1,995.0 320.6,991.5 334.6,989.8 348.6,993.3 355.6,998.5 360.9,1004.8 373.1,1001.3 387.2,998.5 401.9,996.5 404.7,996.8 406.4,988.0 415.2,986.3 423.8,985.2 436.2,985.2 454.5,982.6 464.2,982.8 469.8,986.1 472.0,984.8 485.1,981.7 504.8,977.3 509.2,969.4 511.4,965.0 524.5,962.9 544.3,959.8 555.2,958.5 558.7,967.2 561.8,973.8 574.9,974.7 594.6,972.9 607.8,971.6 610.0,965.0 616.5,957.2 642.8,956.3 671.2,955.4" fill="none" stroke="#555" stroke-width="0.5"/>
<line x1="182.2" y1="789.9" x2="245.4" y2="874.9" stroke="#111" stroke-width="1.25" stroke-dasharray="2.6,1.8"/>
<line x1="319" y1="821.9" x2="378.9" y2="903.6" stroke="#111" stroke-width="1.25" stroke-dasharray="2.6,1.8"/>
<text x="254.5" y="815.4" font-size="14.6" font-family='"Liberation Serif", serif' font-weight="bold" text-anchor="start" fill="#111" textLength="128" lengthAdjust="spacingAndGlyphs" >Backstop interface</text>
<text x="142.2" y="782.6" font-size="14.0" font-family='"Liberation Serif", serif' font-weight="bold" text-anchor="start" fill="#111" textLength="90.6" lengthAdjust="spacingAndGlyphs" >Reverse fault</text>
<text x="559.2" y="920.6" font-size="16.8" font-family='"Liberation Serif", serif' font-weight="bold" text-anchor="start" fill="#111" textLength="52" lengthAdjust="spacingAndGlyphs" >Trench</text>
<text x="11.0" y="744.2" font-size="19" font-family='"Liberation Serif", serif' font-weight="bold" text-anchor="start" fill="#000" >f</text>
<polygon points="76.9,839.9 77.9,837.1 92.7,842.1 94.1,837.8 100.7,846.4 91.7,844.9" fill="#e8302c"/>
<polygon points="195.1,862.8 196.5,859.0 218.2,867.1 220.1,861.9 228.8,873.1 216.9,870.8" fill="#e8302c"/>
<polygon points="319.9,883.5 321.1,879.5 350.4,887.4 351.9,881.7 364.3,893.4 349.3,891.5" fill="#e8302c"/>
<polygon points="507.6,917.8 508.4,913.8 539.3,919.7 540.4,913.8 556.6,925.0 538.5,923.6" fill="#e8302c"/>
<polygon points="667.8,919.7 667.2,915.7 637.2,920.6 636.3,914.7 619.8,925.5 637.9,924.6" fill="#e8302c"/>
<line x1="322.5" y1="904.1" x2="338.9" y2="911.9" stroke="#e6158a" stroke-width="2"/>
<polyline points="336.4,905.8 340.0,912.4 332.6,913.8" fill="none" stroke="#e6158a" stroke-width="2.2" stroke-linejoin="miter"/>
<line x1="299.9" y1="920.7" x2="317.0" y2="927.3" stroke="#e6158a" stroke-width="2"/>
<polyline points="314.0,921.4 318.1,927.7 310.9,929.6" fill="none" stroke="#e6158a" stroke-width="2.2" stroke-linejoin="miter"/>
<line x1="276.2" y1="947.0" x2="293.2" y2="955.0" stroke="#e6158a" stroke-width="2"/>
<polyline points="290.7,948.9 294.3,955.5 286.9,956.9" fill="none" stroke="#e6158a" stroke-width="2.2" stroke-linejoin="miter"/>
<line x1="254.3" y1="967.9" x2="271.7" y2="975.1" stroke="#e6158a" stroke-width="2"/>
<polyline points="268.9,969.2 272.8,975.6 265.5,977.3" fill="none" stroke="#e6158a" stroke-width="2.2" stroke-linejoin="miter"/>
<polygon points="304.6,980.0 303.8,977.6 318.6,973.1 317.5,969.6 327.6,971.8 319.4,975.6" fill="#2c64b4"/>
<polygon points="369.3,939.6 367.7,937.6 380.1,928.1 377.8,925.1 388.0,923.6 381.7,930.1" fill="#2c64b4"/>
<text x="336.4" y="971.5" font-size="18" font-family='"Liberation Sans", sans-serif' font-weight="bold" text-anchor="middle" fill="#2c64b4" >?</text>
<polygon points="83.3,1027.0 82.7,1021.6 114.5,1017.6 113.8,1011.9 138.7,1017.4 115.2,1023.1" fill="#000"/>
<polygon points="205.9,1005.3 205.1,1000.3 229.0,996.6 228.1,991.1 251.1,995.6 229.8,1001.5" fill="#000"/>
<polygon points="350.8,975.9 350.4,971.3 371.3,969.3 370.8,964.6 387.4,970.1 371.7,973.9" fill="#000"/>
<polygon points="486.9,962.1 486.1,959.1 500.9,955.6 500.2,952.7 509.0,955.2 501.6,958.5" fill="#000"/>
<polygon points="419.4,903.6 415.0,903.6 415.0,895.9 412.9,895.9 417.2,890.9 421.4,895.9 419.4,895.9" fill="#3aa048"/>
<polygon points="450.1,903.6 445.5,903.6 445.5,891.1 442.6,891.1 447.8,884.5 453.1,891.1 450.1,891.1" fill="#3aa048"/>
<polygon points="484.9,904.0 479.3,904.0 479.3,886.5 476.4,886.5 482.1,877.9 487.9,886.5 484.9,886.5" fill="#3aa048"/>
<polygon points="519.6,904.0 514.0,904.0 514.0,882.3 511.0,882.3 516.8,872.1 522.5,882.3 519.6,882.3" fill="#3aa048"/>
<text x="383.6" y="1030.6" font-size="15.5" font-family='"Liberation Serif", serif' font-weight="bold" text-anchor="middle" fill="#fff" textLength="176" lengthAdjust="spacingAndGlyphs" transform="rotate(-12 383.6 1030.6)" >Subducting basaltic crust</text>
<line x1="480" y1="1027.6" x2="286" y2="1066" stroke="#fff" stroke-width="1.3"/>
<line x1="285.5" y1="1066.1" x2="296.2" y2="1068.5" stroke="#fff" stroke-width="1.3" stroke-linecap="round"/>
<line x1="285.5" y1="1066.1" x2="294.5" y2="1059.7" stroke="#fff" stroke-width="1.3" stroke-linecap="round"/>
<rect x="64.9" y="727.5" width="606.3000000000001" height="356.20000000000005" fill="none" stroke="#231a16" stroke-width="1.4"/><line x1="51.2" y1="727.5" x2="64.9" y2="727.5" stroke="#231a16" stroke-width="1.3"/><text x="34.2" y="733.4" font-size="16.5" font-family='"Liberation Sans", sans-serif' font-weight="normal" text-anchor="middle" fill="#231a16" >0</text><line x1="51.2" y1="756.1" x2="64.9" y2="756.1" stroke="#231a16" stroke-width="1.3"/><line x1="51.2" y1="786" x2="64.9" y2="786" stroke="#231a16" stroke-width="1.3"/><text x="34.2" y="791.9" font-size="16.5" font-family='"Liberation Sans", sans-serif' font-weight="normal" text-anchor="middle" fill="#231a16" >2</text><line x1="51.2" y1="814.5" x2="64.9" y2="814.5" stroke="#231a16" stroke-width="1.3"/><line x1="51.2" y1="843.5" x2="64.9" y2="843.5" stroke="#231a16" stroke-width="1.3"/><text x="34.2" y="849.4" font-size="16.5" font-family='"Liberation Sans", sans-serif' font-weight="normal" text-anchor="middle" fill="#231a16" >4</text><line x1="51.2" y1="871.2" x2="64.9" y2="871.2" stroke="#231a16" stroke-width="1.3"/><line x1="51.2" y1="898.8" x2="64.9" y2="898.8" stroke="#231a16" stroke-width="1.3"/><text x="34.2" y="904.7" font-size="16.5" font-family='"Liberation Sans", sans-serif' font-weight="normal" text-anchor="middle" fill="#231a16" >6</text><line x1="51.2" y1="929.8" x2="64.9" y2="929.8" stroke="#231a16" stroke-width="1.3"/><line x1="51.2" y1="961" x2="64.9" y2="961" stroke="#231a16" stroke-width="1.3"/><text x="34.2" y="966.9" font-size="16.5" font-family='"Liberation Sans", sans-serif' font-weight="normal" text-anchor="middle" fill="#231a16" >8</text><line x1="51.2" y1="988.7" x2="64.9" y2="988.7" stroke="#231a16" stroke-width="1.3"/><line x1="51.2" y1="1017.6" x2="64.9" y2="1017.6" stroke="#231a16" stroke-width="1.3"/><text x="34.2" y="1023.5" font-size="16.5" font-family='"Liberation Sans", sans-serif' font-weight="normal" text-anchor="middle" fill="#231a16" >10</text><line x1="51.2" y1="1049.8" x2="64.9" y2="1049.8" stroke="#231a16" stroke-width="1.3"/><line x1="51.2" y1="1083.7" x2="64.9" y2="1083.7" stroke="#231a16" stroke-width="1.3"/><text x="36.3" y="1085.1" font-size="16.5" font-family='"Liberation Sans", sans-serif' font-weight="normal" text-anchor="middle" fill="#231a16" >12</text>
<text x="13.5" y="900.2" font-size="17" font-family='"Liberation Serif", serif' font-weight="bold" text-anchor="middle" fill="#111" textLength="94.5" lengthAdjust="spacingAndGlyphs" transform="rotate(-90 13.5 900.2)" >Depth [km]</text>
<rect x="483.2" y="726.9" width="187.7" height="81" fill="#fff" stroke="#111" stroke-width="1.3"/>
<polygon points="487.9,745.3 486.7,741.7 507.2,735.3 506.0,731.4 520.2,733.2 508.4,738.9" fill="#e8302c"/>
<polygon points="487.9,764.2 486.7,760.6 507.2,754.1 506.0,750.2 520.2,752.0 508.4,757.7" fill="#000"/>
<polygon points="488.8,783.0 487.6,779.4 509.7,772.3 508.5,768.4 522.7,770.2 510.9,776.0" fill="#2c64b4"/>
<polygon points="494.4,797.2 492.6,797.2 492.6,794.8 491.5,794.8 493.5,791.6 495.5,794.8 494.4,794.8" fill="#3aa048"/>
<polygon points="504.1,797.2 501.9,797.2 501.9,792.8 500.5,792.8 503.0,788.6 505.5,792.8 504.1,792.8" fill="#3aa048"/>
<polygon points="515.3,797.2 512.7,797.2 512.7,789.2 511.0,789.2 514.0,784.0 517.0,789.2 515.3,789.2" fill="#3aa048"/>
<text x="528.0" y="739.3" font-size="11.8" font-family='"Liberation Serif", serif' font-weight="bold" text-anchor="start" fill="#111" textLength="83" lengthAdjust="spacingAndGlyphs" >Mass wasting</text>
<text x="530.0" y="758.2" font-size="12.2" font-family='"Liberation Serif", serif' font-weight="bold" text-anchor="start" fill="#111" textLength="134" lengthAdjust="spacingAndGlyphs" >Decollement fault slip</text>
<text x="530.0" y="776.3" font-size="12.2" font-family='"Liberation Serif", serif' font-weight="bold" text-anchor="start" fill="#111" textLength="91.2" lengthAdjust="spacingAndGlyphs" >Splay fault slip</text>
<text x="530.0" y="796.3" font-size="12.2" font-family='"Liberation Serif", serif' font-weight="bold" text-anchor="start" fill="#111" textLength="88.2" lengthAdjust="spacingAndGlyphs" >Inelastic uplift</text>
<rect x="500" y="1037.3" width="169.8" height="45.5" fill="#fff" stroke="#111" stroke-width="1.2"/>
<rect x="524.7" y="1054.7" width="121.9" height="9.4" fill="url(#fLeg)"/>
<text x="587.5" y="1050.0" font-size="12.0" font-family='"Liberation Serif", serif' font-weight="bold" text-anchor="middle" fill="#111" textLength="44.8" lengthAdjust="spacingAndGlyphs" >Rigidity</text>
<text x="502.4" y="1076.6" font-size="11.5" font-family='"Liberation Serif", serif' font-weight="bold" text-anchor="start" fill="#111" textLength="75.6" lengthAdjust="spacingAndGlyphs" >Unconsolidate</text>
<text x="605.8" y="1077.9" font-size="11.5" font-family='"Liberation Serif", serif' font-weight="bold" text-anchor="start" fill="#111" textLength="62.6" lengthAdjust="spacingAndGlyphs" >Consolidate</text>
</svg>
</body></html>
